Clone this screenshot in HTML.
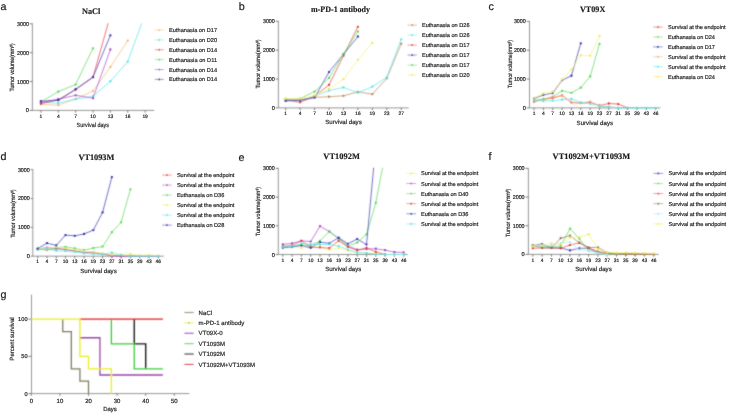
<!DOCTYPE html>
<html><head><meta charset="utf-8"><style>
html,body{margin:0;padding:0;background:#fff;}
body{width:729px;height:416px;overflow:hidden;font-family:"Liberation Sans",sans-serif;}
svg{display:block;}
text{text-rendering:geometricPrecision;}
</style></head><body>
<svg width="729" height="416" viewBox="0 0 729 416">
<defs><filter id="bl" x="0" y="0" width="729" height="416" filterUnits="userSpaceOnUse"><feConvolveMatrix order="3" kernelMatrix="1 4 1 4 16 4 1 4 1" divisor="36" edgeMode="duplicate"/></filter><filter id="tx" x="0" y="0" width="729" height="416" filterUnits="userSpaceOnUse"><feColorMatrix type="identity"/></filter></defs>
<rect width="729" height="416" fill="#fff"/>
<g filter="url(#bl)">
<line x1="32.40" y1="23.50" x2="32.40" y2="110.40" stroke="#8a8a8a" stroke-width="0.9"/>
<line x1="32.40" y1="110.40" x2="154.20" y2="110.40" stroke="#8a8a8a" stroke-width="0.9"/>
<line x1="29.70" y1="23.80" x2="32.40" y2="23.80" stroke="#6e6e6e" stroke-width="0.9"/>
<line x1="29.70" y1="52.67" x2="32.40" y2="52.67" stroke="#6e6e6e" stroke-width="0.9"/>
<line x1="29.70" y1="81.53" x2="32.40" y2="81.53" stroke="#6e6e6e" stroke-width="0.9"/>
<line x1="29.70" y1="110.40" x2="32.40" y2="110.40" stroke="#6e6e6e" stroke-width="0.9"/>
<line x1="40.90" y1="110.40" x2="40.90" y2="112.70" stroke="#6e6e6e" stroke-width="0.9"/>
<line x1="58.27" y1="110.40" x2="58.27" y2="112.70" stroke="#6e6e6e" stroke-width="0.9"/>
<line x1="75.64" y1="110.40" x2="75.64" y2="112.70" stroke="#6e6e6e" stroke-width="0.9"/>
<line x1="93.01" y1="110.40" x2="93.01" y2="112.70" stroke="#6e6e6e" stroke-width="0.9"/>
<line x1="110.38" y1="110.40" x2="110.38" y2="112.70" stroke="#6e6e6e" stroke-width="0.9"/>
<line x1="127.75" y1="110.40" x2="127.75" y2="112.70" stroke="#6e6e6e" stroke-width="0.9"/>
<line x1="145.12" y1="110.40" x2="145.12" y2="112.70" stroke="#6e6e6e" stroke-width="0.9"/>
<clipPath id="ca"><rect x="32.4" y="23.20" width="126.79999999999998" height="91.60000000000001"/></clipPath>
<polyline points="40.90,104.34 58.27,105.20 75.64,98.85 93.01,91.06 110.38,66.96 127.75,40.69" fill="none" stroke="#f4bc7e" stroke-width="0.75" stroke-linejoin="round" clip-path="url(#ca)"/>
<circle cx="40.90" cy="104.34" r="1.15" fill="#f3b470"/>
<circle cx="58.27" cy="105.20" r="1.15" fill="#f3b470"/>
<circle cx="75.64" cy="98.85" r="1.15" fill="#f3b470"/>
<circle cx="93.01" cy="91.06" r="1.15" fill="#f3b470"/>
<circle cx="110.38" cy="66.96" r="1.15" fill="#f3b470"/>
<circle cx="127.75" cy="40.69" r="1.15" fill="#f3b470"/>
<polyline points="40.90,102.03 58.27,103.18 75.64,99.14 93.01,96.26 110.38,81.24 127.75,61.62 145.12,13.99" fill="none" stroke="#60e5e5" stroke-width="0.75" stroke-linejoin="round" clip-path="url(#ca)"/>
<circle cx="40.90" cy="102.03" r="1.15" fill="#4ee2e2"/>
<circle cx="58.27" cy="103.18" r="1.15" fill="#4ee2e2"/>
<circle cx="75.64" cy="99.14" r="1.15" fill="#4ee2e2"/>
<circle cx="93.01" cy="96.26" r="1.15" fill="#4ee2e2"/>
<circle cx="110.38" cy="81.24" r="1.15" fill="#4ee2e2"/>
<circle cx="127.75" cy="61.62" r="1.15" fill="#4ee2e2"/>
<polyline points="40.90,103.76 58.27,100.01 75.64,89.62 93.01,77.20 110.38,15.43" fill="none" stroke="#e54848" stroke-width="0.75" stroke-linejoin="round" clip-path="url(#ca)"/>
<circle cx="40.90" cy="103.76" r="1.15" fill="#e23434"/>
<circle cx="58.27" cy="100.01" r="1.15" fill="#e23434"/>
<circle cx="75.64" cy="89.62" r="1.15" fill="#e23434"/>
<circle cx="93.01" cy="77.20" r="1.15" fill="#e23434"/>
<polyline points="40.90,102.03 58.27,91.64 75.64,84.56 93.01,48.34" fill="none" stroke="#63d863" stroke-width="0.75" stroke-linejoin="round" clip-path="url(#ca)"/>
<circle cx="40.90" cy="102.03" r="1.15" fill="#52d452"/>
<circle cx="58.27" cy="91.64" r="1.15" fill="#52d452"/>
<circle cx="75.64" cy="84.56" r="1.15" fill="#52d452"/>
<circle cx="93.01" cy="48.34" r="1.15" fill="#52d452"/>
<polyline points="40.90,102.61 58.27,99.14 75.64,95.30 93.01,98.13 110.38,49.49" fill="none" stroke="#ad52cc" stroke-width="0.75" stroke-linejoin="round" clip-path="url(#ca)"/>
<circle cx="40.90" cy="102.61" r="1.15" fill="#a43fc6"/>
<circle cx="58.27" cy="99.14" r="1.15" fill="#a43fc6"/>
<circle cx="75.64" cy="95.30" r="1.15" fill="#a43fc6"/>
<circle cx="93.01" cy="98.13" r="1.15" fill="#a43fc6"/>
<circle cx="110.38" cy="49.49" r="1.15" fill="#a43fc6"/>
<polyline points="40.90,101.16 58.27,100.30 75.64,89.24 93.01,77.06 110.38,35.35" fill="none" stroke="#4040b8" stroke-width="0.75" stroke-linejoin="round" clip-path="url(#ca)"/>
<circle cx="40.90" cy="101.16" r="1.15" fill="#2b2bb0"/>
<circle cx="58.27" cy="100.30" r="1.15" fill="#2b2bb0"/>
<circle cx="75.64" cy="89.24" r="1.15" fill="#2b2bb0"/>
<circle cx="93.01" cy="77.06" r="1.15" fill="#2b2bb0"/>
<circle cx="110.38" cy="35.35" r="1.15" fill="#2b2bb0"/>
<line x1="154.80" y1="30.00" x2="163.80" y2="30.00" stroke="#f7ca9b" stroke-width="0.7"/>
<circle cx="159.30" cy="30.00" r="0.85" fill="#f3b470"/>
<line x1="154.80" y1="39.88" x2="163.80" y2="39.88" stroke="#83ebeb" stroke-width="0.7"/>
<circle cx="159.30" cy="39.88" r="0.85" fill="#4ee2e2"/>
<line x1="154.80" y1="49.76" x2="163.80" y2="49.76" stroke="#eb7171" stroke-width="0.7"/>
<circle cx="159.30" cy="49.76" r="0.85" fill="#e23434"/>
<line x1="154.80" y1="59.64" x2="163.80" y2="59.64" stroke="#86e186" stroke-width="0.7"/>
<circle cx="159.30" cy="59.64" r="0.85" fill="#52d452"/>
<line x1="154.80" y1="69.52" x2="163.80" y2="69.52" stroke="#bf79d7" stroke-width="0.7"/>
<circle cx="159.30" cy="69.52" r="0.85" fill="#a43fc6"/>
<line x1="154.80" y1="79.40" x2="163.80" y2="79.40" stroke="#6b6bc8" stroke-width="0.7"/>
<circle cx="159.30" cy="79.40" r="0.85" fill="#2b2bb0"/>
<line x1="278.40" y1="21.00" x2="278.40" y2="107.90" stroke="#8a8a8a" stroke-width="0.9"/>
<line x1="278.40" y1="107.90" x2="408.70" y2="107.90" stroke="#8a8a8a" stroke-width="0.9"/>
<line x1="275.60" y1="21.30" x2="278.40" y2="21.30" stroke="#6e6e6e" stroke-width="0.9"/>
<line x1="275.60" y1="50.17" x2="278.40" y2="50.17" stroke="#6e6e6e" stroke-width="0.9"/>
<line x1="275.60" y1="79.03" x2="278.40" y2="79.03" stroke="#6e6e6e" stroke-width="0.9"/>
<line x1="275.60" y1="107.90" x2="278.40" y2="107.90" stroke="#6e6e6e" stroke-width="0.9"/>
<line x1="285.70" y1="107.90" x2="285.70" y2="110.20" stroke="#6e6e6e" stroke-width="0.9"/>
<line x1="300.14" y1="107.90" x2="300.14" y2="110.20" stroke="#6e6e6e" stroke-width="0.9"/>
<line x1="314.58" y1="107.90" x2="314.58" y2="110.20" stroke="#6e6e6e" stroke-width="0.9"/>
<line x1="329.02" y1="107.90" x2="329.02" y2="110.20" stroke="#6e6e6e" stroke-width="0.9"/>
<line x1="343.46" y1="107.90" x2="343.46" y2="110.20" stroke="#6e6e6e" stroke-width="0.9"/>
<line x1="357.90" y1="107.90" x2="357.90" y2="110.20" stroke="#6e6e6e" stroke-width="0.9"/>
<line x1="372.34" y1="107.90" x2="372.34" y2="110.20" stroke="#6e6e6e" stroke-width="0.9"/>
<line x1="386.78" y1="107.90" x2="386.78" y2="110.20" stroke="#6e6e6e" stroke-width="0.9"/>
<line x1="401.22" y1="107.90" x2="401.22" y2="110.20" stroke="#6e6e6e" stroke-width="0.9"/>
<clipPath id="cb"><rect x="278.4" y="20.70" width="135.3" height="91.60000000000001"/></clipPath>
<polyline points="285.70,99.73 300.14,99.53 314.58,97.33 329.02,96.73 343.46,95.83 357.90,91.82 372.34,94.19 386.78,78.31 401.22,43.67" fill="none" stroke="#b88e65" stroke-width="0.75" stroke-linejoin="round" clip-path="url(#cb)"/>
<circle cx="285.70" cy="99.73" r="1.15" fill="#b08254"/>
<circle cx="300.14" cy="99.53" r="1.15" fill="#b08254"/>
<circle cx="314.58" cy="97.33" r="1.15" fill="#b08254"/>
<circle cx="329.02" cy="96.73" r="1.15" fill="#b08254"/>
<circle cx="343.46" cy="95.83" r="1.15" fill="#b08254"/>
<circle cx="357.90" cy="91.82" r="1.15" fill="#b08254"/>
<circle cx="372.34" cy="94.19" r="1.15" fill="#b08254"/>
<circle cx="386.78" cy="78.31" r="1.15" fill="#b08254"/>
<circle cx="401.22" cy="43.67" r="1.15" fill="#b08254"/>
<polyline points="285.70,100.31 300.14,100.91 314.58,96.12 329.02,90.58 343.46,87.43 357.90,92.80 372.34,86.71 386.78,77.30 401.22,39.31" fill="none" stroke="#60e5e5" stroke-width="0.75" stroke-linejoin="round" clip-path="url(#cb)"/>
<circle cx="285.70" cy="100.31" r="1.15" fill="#4ee2e2"/>
<circle cx="300.14" cy="100.91" r="1.15" fill="#4ee2e2"/>
<circle cx="314.58" cy="96.12" r="1.15" fill="#4ee2e2"/>
<circle cx="329.02" cy="90.58" r="1.15" fill="#4ee2e2"/>
<circle cx="343.46" cy="87.43" r="1.15" fill="#4ee2e2"/>
<circle cx="357.90" cy="92.80" r="1.15" fill="#4ee2e2"/>
<circle cx="372.34" cy="86.71" r="1.15" fill="#4ee2e2"/>
<circle cx="386.78" cy="77.30" r="1.15" fill="#4ee2e2"/>
<circle cx="401.22" cy="39.31" r="1.15" fill="#4ee2e2"/>
<polyline points="285.70,99.73 300.14,102.30 314.58,96.12 329.02,84.95 343.46,55.71 357.90,26.78" fill="none" stroke="#e54848" stroke-width="0.75" stroke-linejoin="round" clip-path="url(#cb)"/>
<circle cx="285.70" cy="99.73" r="1.15" fill="#e23434"/>
<circle cx="300.14" cy="102.30" r="1.15" fill="#e23434"/>
<circle cx="314.58" cy="96.12" r="1.15" fill="#e23434"/>
<circle cx="329.02" cy="84.95" r="1.15" fill="#e23434"/>
<circle cx="343.46" cy="55.71" r="1.15" fill="#e23434"/>
<circle cx="357.90" cy="26.78" r="1.15" fill="#e23434"/>
<polyline points="285.70,100.91 300.14,100.31 314.58,97.62 329.02,72.08 343.46,54.29 357.90,36.51" fill="none" stroke="#4040b8" stroke-width="0.75" stroke-linejoin="round" clip-path="url(#cb)"/>
<circle cx="285.70" cy="100.91" r="1.15" fill="#2b2bb0"/>
<circle cx="300.14" cy="100.31" r="1.15" fill="#2b2bb0"/>
<circle cx="314.58" cy="97.62" r="1.15" fill="#2b2bb0"/>
<circle cx="329.02" cy="72.08" r="1.15" fill="#2b2bb0"/>
<circle cx="343.46" cy="54.29" r="1.15" fill="#2b2bb0"/>
<circle cx="357.90" cy="36.51" r="1.15" fill="#2b2bb0"/>
<polyline points="285.70,99.12 300.14,98.72 314.58,91.53 329.02,77.88 343.46,53.92 357.90,31.40" fill="none" stroke="#63d863" stroke-width="0.75" stroke-linejoin="round" clip-path="url(#cb)"/>
<circle cx="285.70" cy="99.12" r="1.15" fill="#52d452"/>
<circle cx="300.14" cy="98.72" r="1.15" fill="#52d452"/>
<circle cx="314.58" cy="91.53" r="1.15" fill="#52d452"/>
<circle cx="329.02" cy="77.88" r="1.15" fill="#52d452"/>
<circle cx="343.46" cy="53.92" r="1.15" fill="#52d452"/>
<circle cx="357.90" cy="31.40" r="1.15" fill="#52d452"/>
<polyline points="285.70,98.52 300.14,98.72 314.58,95.52 329.02,88.93 343.46,79.06 357.90,59.81 372.34,43.01" fill="none" stroke="#f4f183" stroke-width="0.75" stroke-linejoin="round" clip-path="url(#cb)"/>
<circle cx="285.70" cy="98.52" r="1.15" fill="#eeea40"/>
<circle cx="300.14" cy="98.72" r="1.15" fill="#eeea40"/>
<circle cx="314.58" cy="95.52" r="1.15" fill="#eeea40"/>
<circle cx="329.02" cy="88.93" r="1.15" fill="#eeea40"/>
<circle cx="343.46" cy="79.06" r="1.15" fill="#eeea40"/>
<circle cx="357.90" cy="59.81" r="1.15" fill="#eeea40"/>
<circle cx="372.34" cy="43.01" r="1.15" fill="#eeea40"/>
<line x1="407.60" y1="25.10" x2="416.80" y2="25.10" stroke="#c8a887" stroke-width="0.7"/>
<circle cx="412.20" cy="25.10" r="0.85" fill="#b08254"/>
<line x1="407.60" y1="35.10" x2="416.80" y2="35.10" stroke="#83ebeb" stroke-width="0.7"/>
<circle cx="412.20" cy="35.10" r="0.85" fill="#4ee2e2"/>
<line x1="407.60" y1="45.10" x2="416.80" y2="45.10" stroke="#eb7171" stroke-width="0.7"/>
<circle cx="412.20" cy="45.10" r="0.85" fill="#e23434"/>
<line x1="407.60" y1="55.10" x2="416.80" y2="55.10" stroke="#6b6bc8" stroke-width="0.7"/>
<circle cx="412.20" cy="55.10" r="0.85" fill="#2b2bb0"/>
<line x1="407.60" y1="65.10" x2="416.80" y2="65.10" stroke="#86e186" stroke-width="0.7"/>
<circle cx="412.20" cy="65.10" r="0.85" fill="#52d452"/>
<line x1="407.60" y1="75.10" x2="416.80" y2="75.10" stroke="#f3f079" stroke-width="0.7"/>
<circle cx="412.20" cy="75.10" r="0.85" fill="#eeea40"/>
<line x1="529.50" y1="21.10" x2="529.50" y2="107.90" stroke="#8a8a8a" stroke-width="0.9"/>
<line x1="529.50" y1="107.90" x2="660.40" y2="107.90" stroke="#8a8a8a" stroke-width="0.9"/>
<line x1="526.60" y1="21.40" x2="529.50" y2="21.40" stroke="#6e6e6e" stroke-width="0.9"/>
<line x1="526.60" y1="50.23" x2="529.50" y2="50.23" stroke="#6e6e6e" stroke-width="0.9"/>
<line x1="526.60" y1="79.07" x2="529.50" y2="79.07" stroke="#6e6e6e" stroke-width="0.9"/>
<line x1="526.60" y1="107.90" x2="529.50" y2="107.90" stroke="#6e6e6e" stroke-width="0.9"/>
<line x1="534.00" y1="107.90" x2="534.00" y2="110.20" stroke="#6e6e6e" stroke-width="0.9"/>
<line x1="543.36" y1="107.90" x2="543.36" y2="110.20" stroke="#6e6e6e" stroke-width="0.9"/>
<line x1="552.72" y1="107.90" x2="552.72" y2="110.20" stroke="#6e6e6e" stroke-width="0.9"/>
<line x1="562.08" y1="107.90" x2="562.08" y2="110.20" stroke="#6e6e6e" stroke-width="0.9"/>
<line x1="571.44" y1="107.90" x2="571.44" y2="110.20" stroke="#6e6e6e" stroke-width="0.9"/>
<line x1="580.80" y1="107.90" x2="580.80" y2="110.20" stroke="#6e6e6e" stroke-width="0.9"/>
<line x1="590.16" y1="107.90" x2="590.16" y2="110.20" stroke="#6e6e6e" stroke-width="0.9"/>
<line x1="599.52" y1="107.90" x2="599.52" y2="110.20" stroke="#6e6e6e" stroke-width="0.9"/>
<line x1="608.88" y1="107.90" x2="608.88" y2="110.20" stroke="#6e6e6e" stroke-width="0.9"/>
<line x1="618.24" y1="107.90" x2="618.24" y2="110.20" stroke="#6e6e6e" stroke-width="0.9"/>
<line x1="627.60" y1="107.90" x2="627.60" y2="110.20" stroke="#6e6e6e" stroke-width="0.9"/>
<line x1="636.96" y1="107.90" x2="636.96" y2="110.20" stroke="#6e6e6e" stroke-width="0.9"/>
<line x1="646.32" y1="107.90" x2="646.32" y2="110.20" stroke="#6e6e6e" stroke-width="0.9"/>
<line x1="655.68" y1="107.90" x2="655.68" y2="110.20" stroke="#6e6e6e" stroke-width="0.9"/>
<clipPath id="cc"><rect x="529.5" y="20.80" width="135.89999999999998" height="91.5"/></clipPath>
<polyline points="534.00,101.70 543.36,99.54 552.72,98.10 562.08,95.33 571.44,102.42 580.80,103.11 590.16,102.42 599.52,105.51 608.88,103.52 618.24,104.09 627.60,107.90" fill="none" stroke="#e54848" stroke-width="0.75" stroke-linejoin="round" clip-path="url(#cc)"/>
<circle cx="534.00" cy="101.70" r="1.15" fill="#e23434"/>
<circle cx="543.36" cy="99.54" r="1.15" fill="#e23434"/>
<circle cx="552.72" cy="98.10" r="1.15" fill="#e23434"/>
<circle cx="562.08" cy="95.33" r="1.15" fill="#e23434"/>
<circle cx="571.44" cy="102.42" r="1.15" fill="#e23434"/>
<circle cx="580.80" cy="103.11" r="1.15" fill="#e23434"/>
<circle cx="590.16" cy="102.42" r="1.15" fill="#e23434"/>
<circle cx="599.52" cy="105.51" r="1.15" fill="#e23434"/>
<circle cx="608.88" cy="103.52" r="1.15" fill="#e23434"/>
<circle cx="618.24" cy="104.09" r="1.15" fill="#e23434"/>
<circle cx="627.60" cy="107.90" r="1.15" fill="#e23434"/>
<polyline points="534.00,100.40 543.36,99.02 552.72,96.71 562.08,90.83 571.44,92.82 580.80,87.63 590.16,76.44 599.52,43.80" fill="none" stroke="#63d863" stroke-width="0.75" stroke-linejoin="round" clip-path="url(#cc)"/>
<circle cx="534.00" cy="100.40" r="1.15" fill="#52d452"/>
<circle cx="543.36" cy="99.02" r="1.15" fill="#52d452"/>
<circle cx="552.72" cy="96.71" r="1.15" fill="#52d452"/>
<circle cx="562.08" cy="90.83" r="1.15" fill="#52d452"/>
<circle cx="571.44" cy="92.82" r="1.15" fill="#52d452"/>
<circle cx="580.80" cy="87.63" r="1.15" fill="#52d452"/>
<circle cx="590.16" cy="76.44" r="1.15" fill="#52d452"/>
<circle cx="599.52" cy="43.80" r="1.15" fill="#52d452"/>
<polyline points="534.00,98.62 543.36,94.93 552.72,93.11 562.08,80.22 571.44,75.75 580.80,43.31" fill="none" stroke="#4040b8" stroke-width="0.75" stroke-linejoin="round" clip-path="url(#cc)"/>
<circle cx="534.00" cy="98.62" r="1.15" fill="#2b2bb0"/>
<circle cx="543.36" cy="94.93" r="1.15" fill="#2b2bb0"/>
<circle cx="552.72" cy="93.11" r="1.15" fill="#2b2bb0"/>
<circle cx="562.08" cy="80.22" r="1.15" fill="#2b2bb0"/>
<circle cx="571.44" cy="75.75" r="1.15" fill="#2b2bb0"/>
<circle cx="580.80" cy="43.31" r="1.15" fill="#2b2bb0"/>
<polyline points="534.00,100.69 543.36,99.54 552.72,96.94 562.08,95.79 571.44,102.71 580.80,103.00 590.16,101.56 599.52,105.88 608.88,106.75 618.24,107.90" fill="none" stroke="#f3ab85" stroke-width="0.75" stroke-linejoin="round" clip-path="url(#cc)"/>
<circle cx="534.00" cy="100.69" r="1.15" fill="#f2a277"/>
<circle cx="543.36" cy="99.54" r="1.15" fill="#f2a277"/>
<circle cx="552.72" cy="96.94" r="1.15" fill="#f2a277"/>
<circle cx="562.08" cy="95.79" r="1.15" fill="#f2a277"/>
<circle cx="571.44" cy="102.71" r="1.15" fill="#f2a277"/>
<circle cx="580.80" cy="103.00" r="1.15" fill="#f2a277"/>
<circle cx="590.16" cy="101.56" r="1.15" fill="#f2a277"/>
<circle cx="599.52" cy="105.88" r="1.15" fill="#f2a277"/>
<circle cx="608.88" cy="106.75" r="1.15" fill="#f2a277"/>
<circle cx="618.24" cy="107.90" r="1.15" fill="#f2a277"/>
<polyline points="534.00,99.71 543.36,100.98 552.72,100.55 562.08,99.71 571.44,99.02 580.80,102.42 590.16,103.81 599.52,105.88 608.88,107.04 618.24,107.90 627.60,107.90 636.96,107.90 646.32,107.90 655.68,107.90" fill="none" stroke="#60e5e5" stroke-width="0.75" stroke-linejoin="round" clip-path="url(#cc)"/>
<circle cx="534.00" cy="99.71" r="1.15" fill="#4ee2e2"/>
<circle cx="543.36" cy="100.98" r="1.15" fill="#4ee2e2"/>
<circle cx="552.72" cy="100.55" r="1.15" fill="#4ee2e2"/>
<circle cx="562.08" cy="99.71" r="1.15" fill="#4ee2e2"/>
<circle cx="571.44" cy="99.02" r="1.15" fill="#4ee2e2"/>
<circle cx="580.80" cy="102.42" r="1.15" fill="#4ee2e2"/>
<circle cx="590.16" cy="103.81" r="1.15" fill="#4ee2e2"/>
<circle cx="599.52" cy="105.88" r="1.15" fill="#4ee2e2"/>
<circle cx="608.88" cy="107.04" r="1.15" fill="#4ee2e2"/>
<circle cx="618.24" cy="107.90" r="1.15" fill="#4ee2e2"/>
<circle cx="627.60" cy="107.90" r="1.15" fill="#4ee2e2"/>
<circle cx="636.96" cy="107.90" r="1.15" fill="#4ee2e2"/>
<circle cx="646.32" cy="107.90" r="1.15" fill="#4ee2e2"/>
<circle cx="655.68" cy="107.90" r="1.15" fill="#4ee2e2"/>
<polyline points="534.00,97.61 543.36,93.51 552.72,91.72 562.08,79.44 571.44,69.70 580.80,55.28 590.16,55.71 599.52,36.11" fill="none" stroke="#f4f183" stroke-width="0.75" stroke-linejoin="round" clip-path="url(#cc)"/>
<circle cx="534.00" cy="97.61" r="1.15" fill="#eeea40"/>
<circle cx="543.36" cy="93.51" r="1.15" fill="#eeea40"/>
<circle cx="552.72" cy="91.72" r="1.15" fill="#eeea40"/>
<circle cx="562.08" cy="79.44" r="1.15" fill="#eeea40"/>
<circle cx="571.44" cy="69.70" r="1.15" fill="#eeea40"/>
<circle cx="580.80" cy="55.28" r="1.15" fill="#eeea40"/>
<circle cx="590.16" cy="55.71" r="1.15" fill="#eeea40"/>
<circle cx="599.52" cy="36.11" r="1.15" fill="#eeea40"/>
<line x1="653.10" y1="27.10" x2="662.70" y2="27.10" stroke="#eb7171" stroke-width="0.7"/>
<circle cx="657.90" cy="27.10" r="0.85" fill="#e23434"/>
<line x1="653.10" y1="37.00" x2="662.70" y2="37.00" stroke="#86e186" stroke-width="0.7"/>
<circle cx="657.90" cy="37.00" r="0.85" fill="#52d452"/>
<line x1="653.10" y1="46.90" x2="662.70" y2="46.90" stroke="#6b6bc8" stroke-width="0.7"/>
<circle cx="657.90" cy="46.90" r="0.85" fill="#2b2bb0"/>
<line x1="653.10" y1="56.80" x2="662.70" y2="56.80" stroke="#f6bea0" stroke-width="0.7"/>
<circle cx="657.90" cy="56.80" r="0.85" fill="#f2a277"/>
<line x1="653.10" y1="66.70" x2="662.70" y2="66.70" stroke="#83ebeb" stroke-width="0.7"/>
<circle cx="657.90" cy="66.70" r="0.85" fill="#4ee2e2"/>
<line x1="653.10" y1="76.60" x2="662.70" y2="76.60" stroke="#f3f079" stroke-width="0.7"/>
<circle cx="657.90" cy="76.60" r="0.85" fill="#eeea40"/>
<line x1="32.80" y1="169.30" x2="32.80" y2="256.20" stroke="#8a8a8a" stroke-width="0.9"/>
<line x1="32.80" y1="256.20" x2="163.80" y2="256.20" stroke="#8a8a8a" stroke-width="0.9"/>
<line x1="30.60" y1="169.60" x2="32.80" y2="169.60" stroke="#6e6e6e" stroke-width="0.9"/>
<line x1="30.60" y1="198.47" x2="32.80" y2="198.47" stroke="#6e6e6e" stroke-width="0.9"/>
<line x1="30.60" y1="227.33" x2="32.80" y2="227.33" stroke="#6e6e6e" stroke-width="0.9"/>
<line x1="30.60" y1="256.20" x2="32.80" y2="256.20" stroke="#6e6e6e" stroke-width="0.9"/>
<line x1="37.70" y1="256.20" x2="37.70" y2="258.50" stroke="#6e6e6e" stroke-width="0.9"/>
<line x1="46.97" y1="256.20" x2="46.97" y2="258.50" stroke="#6e6e6e" stroke-width="0.9"/>
<line x1="56.24" y1="256.20" x2="56.24" y2="258.50" stroke="#6e6e6e" stroke-width="0.9"/>
<line x1="65.51" y1="256.20" x2="65.51" y2="258.50" stroke="#6e6e6e" stroke-width="0.9"/>
<line x1="74.78" y1="256.20" x2="74.78" y2="258.50" stroke="#6e6e6e" stroke-width="0.9"/>
<line x1="84.05" y1="256.20" x2="84.05" y2="258.50" stroke="#6e6e6e" stroke-width="0.9"/>
<line x1="93.32" y1="256.20" x2="93.32" y2="258.50" stroke="#6e6e6e" stroke-width="0.9"/>
<line x1="102.59" y1="256.20" x2="102.59" y2="258.50" stroke="#6e6e6e" stroke-width="0.9"/>
<line x1="111.86" y1="256.20" x2="111.86" y2="258.50" stroke="#6e6e6e" stroke-width="0.9"/>
<line x1="121.13" y1="256.20" x2="121.13" y2="258.50" stroke="#6e6e6e" stroke-width="0.9"/>
<line x1="130.40" y1="256.20" x2="130.40" y2="258.50" stroke="#6e6e6e" stroke-width="0.9"/>
<line x1="139.67" y1="256.20" x2="139.67" y2="258.50" stroke="#6e6e6e" stroke-width="0.9"/>
<line x1="148.94" y1="256.20" x2="148.94" y2="258.50" stroke="#6e6e6e" stroke-width="0.9"/>
<line x1="158.21" y1="256.20" x2="158.21" y2="258.50" stroke="#6e6e6e" stroke-width="0.9"/>
<clipPath id="cd"><rect x="32.8" y="169.00" width="136.0" height="91.6"/></clipPath>
<polyline points="37.70,248.98 46.97,249.85 56.24,248.69 65.51,249.27 74.78,251.00 84.05,252.45 93.32,252.74 102.59,254.18 111.86,255.33 121.13,256.20 130.40,256.20 139.67,256.20 148.94,256.20 158.21,256.20" fill="none" stroke="#e54848" stroke-width="0.75" stroke-linejoin="round" clip-path="url(#cd)"/>
<circle cx="37.70" cy="248.98" r="1.15" fill="#e23434"/>
<circle cx="46.97" cy="249.85" r="1.15" fill="#e23434"/>
<circle cx="56.24" cy="248.69" r="1.15" fill="#e23434"/>
<circle cx="65.51" cy="249.27" r="1.15" fill="#e23434"/>
<circle cx="74.78" cy="251.00" r="1.15" fill="#e23434"/>
<circle cx="84.05" cy="252.45" r="1.15" fill="#e23434"/>
<circle cx="93.32" cy="252.74" r="1.15" fill="#e23434"/>
<circle cx="102.59" cy="254.18" r="1.15" fill="#e23434"/>
<circle cx="111.86" cy="255.33" r="1.15" fill="#e23434"/>
<circle cx="121.13" cy="256.20" r="1.15" fill="#e23434"/>
<circle cx="130.40" cy="256.20" r="1.15" fill="#e23434"/>
<circle cx="139.67" cy="256.20" r="1.15" fill="#e23434"/>
<circle cx="148.94" cy="256.20" r="1.15" fill="#e23434"/>
<circle cx="158.21" cy="256.20" r="1.15" fill="#e23434"/>
<polyline points="37.70,248.98 46.97,247.54 56.24,248.41 65.51,249.56 74.78,251.00 84.05,252.16 93.32,252.45 102.59,253.89 111.86,255.91 121.13,256.20 130.40,256.20 139.67,256.20 148.94,256.20 158.21,256.20" fill="none" stroke="#ad52cc" stroke-width="0.75" stroke-linejoin="round" clip-path="url(#cd)"/>
<circle cx="37.70" cy="248.98" r="1.15" fill="#a43fc6"/>
<circle cx="46.97" cy="247.54" r="1.15" fill="#a43fc6"/>
<circle cx="56.24" cy="248.41" r="1.15" fill="#a43fc6"/>
<circle cx="65.51" cy="249.56" r="1.15" fill="#a43fc6"/>
<circle cx="74.78" cy="251.00" r="1.15" fill="#a43fc6"/>
<circle cx="84.05" cy="252.16" r="1.15" fill="#a43fc6"/>
<circle cx="93.32" cy="252.45" r="1.15" fill="#a43fc6"/>
<circle cx="102.59" cy="253.89" r="1.15" fill="#a43fc6"/>
<circle cx="111.86" cy="255.91" r="1.15" fill="#a43fc6"/>
<circle cx="121.13" cy="256.20" r="1.15" fill="#a43fc6"/>
<circle cx="130.40" cy="256.20" r="1.15" fill="#a43fc6"/>
<circle cx="139.67" cy="256.20" r="1.15" fill="#a43fc6"/>
<circle cx="148.94" cy="256.20" r="1.15" fill="#a43fc6"/>
<circle cx="158.21" cy="256.20" r="1.15" fill="#a43fc6"/>
<polyline points="37.70,248.93 46.97,248.93 56.24,247.71 65.51,246.82 74.78,248.43 84.05,250.25 93.32,248.03 102.59,246.62 111.86,232.18 121.13,222.28 130.40,189.37" fill="none" stroke="#63d863" stroke-width="0.75" stroke-linejoin="round" clip-path="url(#cd)"/>
<circle cx="37.70" cy="248.93" r="1.15" fill="#52d452"/>
<circle cx="46.97" cy="248.93" r="1.15" fill="#52d452"/>
<circle cx="56.24" cy="247.71" r="1.15" fill="#52d452"/>
<circle cx="65.51" cy="246.82" r="1.15" fill="#52d452"/>
<circle cx="74.78" cy="248.43" r="1.15" fill="#52d452"/>
<circle cx="84.05" cy="250.25" r="1.15" fill="#52d452"/>
<circle cx="93.32" cy="248.03" r="1.15" fill="#52d452"/>
<circle cx="102.59" cy="246.62" r="1.15" fill="#52d452"/>
<circle cx="111.86" cy="232.18" r="1.15" fill="#52d452"/>
<circle cx="121.13" cy="222.28" r="1.15" fill="#52d452"/>
<circle cx="130.40" cy="189.37" r="1.15" fill="#52d452"/>
<polyline points="37.70,248.98 46.97,248.41 56.24,246.96 65.51,248.41 74.78,249.85 84.05,251.29 93.32,251.87 102.59,253.31 111.86,254.76 121.13,254.47 130.40,254.18 139.67,255.33 148.94,255.05 158.21,255.62" fill="none" stroke="#f4f183" stroke-width="0.75" stroke-linejoin="round" clip-path="url(#cd)"/>
<circle cx="37.70" cy="248.98" r="1.15" fill="#eeea40"/>
<circle cx="46.97" cy="248.41" r="1.15" fill="#eeea40"/>
<circle cx="56.24" cy="246.96" r="1.15" fill="#eeea40"/>
<circle cx="65.51" cy="248.41" r="1.15" fill="#eeea40"/>
<circle cx="74.78" cy="249.85" r="1.15" fill="#eeea40"/>
<circle cx="84.05" cy="251.29" r="1.15" fill="#eeea40"/>
<circle cx="93.32" cy="251.87" r="1.15" fill="#eeea40"/>
<circle cx="102.59" cy="253.31" r="1.15" fill="#eeea40"/>
<circle cx="111.86" cy="254.76" r="1.15" fill="#eeea40"/>
<circle cx="121.13" cy="254.47" r="1.15" fill="#eeea40"/>
<circle cx="130.40" cy="254.18" r="1.15" fill="#eeea40"/>
<circle cx="139.67" cy="255.33" r="1.15" fill="#eeea40"/>
<circle cx="148.94" cy="255.05" r="1.15" fill="#eeea40"/>
<circle cx="158.21" cy="255.62" r="1.15" fill="#eeea40"/>
<polyline points="37.70,249.85 46.97,248.69 56.24,250.72 65.51,251.00 74.78,251.87 84.05,253.31 93.32,253.89 102.59,254.47 111.86,252.74 121.13,255.05 130.40,256.20 139.67,256.20 148.94,256.20 158.21,256.20" fill="none" stroke="#60e5e5" stroke-width="0.75" stroke-linejoin="round" clip-path="url(#cd)"/>
<circle cx="37.70" cy="249.85" r="1.15" fill="#4ee2e2"/>
<circle cx="46.97" cy="248.69" r="1.15" fill="#4ee2e2"/>
<circle cx="56.24" cy="250.72" r="1.15" fill="#4ee2e2"/>
<circle cx="65.51" cy="251.00" r="1.15" fill="#4ee2e2"/>
<circle cx="74.78" cy="251.87" r="1.15" fill="#4ee2e2"/>
<circle cx="84.05" cy="253.31" r="1.15" fill="#4ee2e2"/>
<circle cx="93.32" cy="253.89" r="1.15" fill="#4ee2e2"/>
<circle cx="102.59" cy="254.47" r="1.15" fill="#4ee2e2"/>
<circle cx="111.86" cy="252.74" r="1.15" fill="#4ee2e2"/>
<circle cx="121.13" cy="255.05" r="1.15" fill="#4ee2e2"/>
<circle cx="130.40" cy="256.20" r="1.15" fill="#4ee2e2"/>
<circle cx="139.67" cy="256.20" r="1.15" fill="#4ee2e2"/>
<circle cx="148.94" cy="256.20" r="1.15" fill="#4ee2e2"/>
<circle cx="158.21" cy="256.20" r="1.15" fill="#4ee2e2"/>
<polyline points="37.70,248.64 46.97,243.18 56.24,245.40 65.51,235.10 74.78,235.82 84.05,234.00 93.32,230.05 102.59,212.41 111.86,177.11" fill="none" stroke="#4040b8" stroke-width="0.75" stroke-linejoin="round" clip-path="url(#cd)"/>
<circle cx="37.70" cy="248.64" r="1.15" fill="#2b2bb0"/>
<circle cx="46.97" cy="243.18" r="1.15" fill="#2b2bb0"/>
<circle cx="56.24" cy="245.40" r="1.15" fill="#2b2bb0"/>
<circle cx="65.51" cy="235.10" r="1.15" fill="#2b2bb0"/>
<circle cx="74.78" cy="235.82" r="1.15" fill="#2b2bb0"/>
<circle cx="84.05" cy="234.00" r="1.15" fill="#2b2bb0"/>
<circle cx="93.32" cy="230.05" r="1.15" fill="#2b2bb0"/>
<circle cx="102.59" cy="212.41" r="1.15" fill="#2b2bb0"/>
<circle cx="111.86" cy="177.11" r="1.15" fill="#2b2bb0"/>
<line x1="162.10" y1="175.10" x2="171.80" y2="175.10" stroke="#eb7171" stroke-width="0.7"/>
<circle cx="166.95" cy="175.10" r="0.85" fill="#e23434"/>
<line x1="162.10" y1="185.10" x2="171.80" y2="185.10" stroke="#bf79d7" stroke-width="0.7"/>
<circle cx="166.95" cy="185.10" r="0.85" fill="#a43fc6"/>
<line x1="162.10" y1="195.10" x2="171.80" y2="195.10" stroke="#86e186" stroke-width="0.7"/>
<circle cx="166.95" cy="195.10" r="0.85" fill="#52d452"/>
<line x1="162.10" y1="205.10" x2="171.80" y2="205.10" stroke="#f3f079" stroke-width="0.7"/>
<circle cx="166.95" cy="205.10" r="0.85" fill="#eeea40"/>
<line x1="162.10" y1="215.10" x2="171.80" y2="215.10" stroke="#83ebeb" stroke-width="0.7"/>
<circle cx="166.95" cy="215.10" r="0.85" fill="#4ee2e2"/>
<line x1="162.10" y1="225.10" x2="171.80" y2="225.10" stroke="#6b6bc8" stroke-width="0.7"/>
<circle cx="166.95" cy="225.10" r="0.85" fill="#2b2bb0"/>
<line x1="278.30" y1="168.10" x2="278.30" y2="254.50" stroke="#8a8a8a" stroke-width="0.9"/>
<line x1="278.30" y1="254.50" x2="407.70" y2="254.50" stroke="#8a8a8a" stroke-width="0.9"/>
<line x1="275.60" y1="168.40" x2="278.30" y2="168.40" stroke="#6e6e6e" stroke-width="0.9"/>
<line x1="275.60" y1="197.10" x2="278.30" y2="197.10" stroke="#6e6e6e" stroke-width="0.9"/>
<line x1="275.60" y1="225.80" x2="278.30" y2="225.80" stroke="#6e6e6e" stroke-width="0.9"/>
<line x1="275.60" y1="254.50" x2="278.30" y2="254.50" stroke="#6e6e6e" stroke-width="0.9"/>
<line x1="282.80" y1="254.50" x2="282.80" y2="256.80" stroke="#6e6e6e" stroke-width="0.9"/>
<line x1="292.10" y1="254.50" x2="292.10" y2="256.80" stroke="#6e6e6e" stroke-width="0.9"/>
<line x1="301.40" y1="254.50" x2="301.40" y2="256.80" stroke="#6e6e6e" stroke-width="0.9"/>
<line x1="310.70" y1="254.50" x2="310.70" y2="256.80" stroke="#6e6e6e" stroke-width="0.9"/>
<line x1="320.00" y1="254.50" x2="320.00" y2="256.80" stroke="#6e6e6e" stroke-width="0.9"/>
<line x1="329.30" y1="254.50" x2="329.30" y2="256.80" stroke="#6e6e6e" stroke-width="0.9"/>
<line x1="338.60" y1="254.50" x2="338.60" y2="256.80" stroke="#6e6e6e" stroke-width="0.9"/>
<line x1="347.90" y1="254.50" x2="347.90" y2="256.80" stroke="#6e6e6e" stroke-width="0.9"/>
<line x1="357.20" y1="254.50" x2="357.20" y2="256.80" stroke="#6e6e6e" stroke-width="0.9"/>
<line x1="366.50" y1="254.50" x2="366.50" y2="256.80" stroke="#6e6e6e" stroke-width="0.9"/>
<line x1="375.80" y1="254.50" x2="375.80" y2="256.80" stroke="#6e6e6e" stroke-width="0.9"/>
<line x1="385.10" y1="254.50" x2="385.10" y2="256.80" stroke="#6e6e6e" stroke-width="0.9"/>
<line x1="394.40" y1="254.50" x2="394.40" y2="256.80" stroke="#6e6e6e" stroke-width="0.9"/>
<line x1="403.70" y1="254.50" x2="403.70" y2="256.80" stroke="#6e6e6e" stroke-width="0.9"/>
<clipPath id="ce"><rect x="278.3" y="167.80" width="134.39999999999998" height="91.1"/></clipPath>
<polyline points="282.80,246.46 292.10,246.46 301.40,247.84 310.70,246.18 320.00,246.95 329.30,249.62 338.60,247.84 347.90,250.48 357.20,252.49 366.50,253.06 375.80,253.35 385.10,254.21 394.40,254.50 403.70,254.50" fill="none" stroke="#f4f183" stroke-width="0.75" stroke-linejoin="round" clip-path="url(#ce)"/>
<circle cx="282.80" cy="246.46" r="1.15" fill="#eeea40"/>
<circle cx="292.10" cy="246.46" r="1.15" fill="#eeea40"/>
<circle cx="301.40" cy="247.84" r="1.15" fill="#eeea40"/>
<circle cx="310.70" cy="246.18" r="1.15" fill="#eeea40"/>
<circle cx="320.00" cy="246.95" r="1.15" fill="#eeea40"/>
<circle cx="329.30" cy="249.62" r="1.15" fill="#eeea40"/>
<circle cx="338.60" cy="247.84" r="1.15" fill="#eeea40"/>
<circle cx="347.90" cy="250.48" r="1.15" fill="#eeea40"/>
<circle cx="357.20" cy="252.49" r="1.15" fill="#eeea40"/>
<circle cx="366.50" cy="253.06" r="1.15" fill="#eeea40"/>
<circle cx="375.80" cy="253.35" r="1.15" fill="#eeea40"/>
<circle cx="385.10" cy="254.21" r="1.15" fill="#eeea40"/>
<circle cx="394.40" cy="254.50" r="1.15" fill="#eeea40"/>
<circle cx="403.70" cy="254.50" r="1.15" fill="#eeea40"/>
<polyline points="282.80,244.28 292.10,243.39 301.40,240.81 310.70,241.59 320.00,226.14 329.30,231.60 338.60,238.14 347.90,246.06 357.20,249.62 366.50,249.05 375.80,248.76 385.10,250.19 394.40,252.20 403.70,252.49" fill="none" stroke="#ad52cc" stroke-width="0.75" stroke-linejoin="round" clip-path="url(#ce)"/>
<circle cx="282.80" cy="244.28" r="1.15" fill="#a43fc6"/>
<circle cx="292.10" cy="243.39" r="1.15" fill="#a43fc6"/>
<circle cx="301.40" cy="240.81" r="1.15" fill="#a43fc6"/>
<circle cx="310.70" cy="241.59" r="1.15" fill="#a43fc6"/>
<circle cx="320.00" cy="226.14" r="1.15" fill="#a43fc6"/>
<circle cx="329.30" cy="231.60" r="1.15" fill="#a43fc6"/>
<circle cx="338.60" cy="238.14" r="1.15" fill="#a43fc6"/>
<circle cx="347.90" cy="246.06" r="1.15" fill="#a43fc6"/>
<circle cx="357.20" cy="249.62" r="1.15" fill="#a43fc6"/>
<circle cx="366.50" cy="249.05" r="1.15" fill="#a43fc6"/>
<circle cx="375.80" cy="248.76" r="1.15" fill="#a43fc6"/>
<circle cx="385.10" cy="250.19" r="1.15" fill="#a43fc6"/>
<circle cx="394.40" cy="252.20" r="1.15" fill="#a43fc6"/>
<circle cx="403.70" cy="252.49" r="1.15" fill="#a43fc6"/>
<polyline points="282.80,246.95 292.10,246.18 301.40,245.03 310.70,245.32 320.00,240.81 329.30,231.40 338.60,239.03 347.90,246.06 357.20,242.50 366.50,234.41 375.80,202.84 385.10,154.28" fill="none" stroke="#63d863" stroke-width="0.75" stroke-linejoin="round" clip-path="url(#ce)"/>
<circle cx="282.80" cy="246.95" r="1.15" fill="#52d452"/>
<circle cx="292.10" cy="246.18" r="1.15" fill="#52d452"/>
<circle cx="301.40" cy="245.03" r="1.15" fill="#52d452"/>
<circle cx="310.70" cy="245.32" r="1.15" fill="#52d452"/>
<circle cx="320.00" cy="240.81" r="1.15" fill="#52d452"/>
<circle cx="329.30" cy="231.40" r="1.15" fill="#52d452"/>
<circle cx="338.60" cy="239.03" r="1.15" fill="#52d452"/>
<circle cx="347.90" cy="246.06" r="1.15" fill="#52d452"/>
<circle cx="357.20" cy="242.50" r="1.15" fill="#52d452"/>
<circle cx="366.50" cy="234.41" r="1.15" fill="#52d452"/>
<circle cx="375.80" cy="202.84" r="1.15" fill="#52d452"/>
<polyline points="282.80,246.18 292.10,245.60 301.40,240.81 310.70,247.32 320.00,247.47 329.30,248.19 338.60,240.81 347.90,246.95 357.20,250.48 366.50,247.84 375.80,251.92 385.10,254.50" fill="none" stroke="#e54848" stroke-width="0.75" stroke-linejoin="round" clip-path="url(#ce)"/>
<circle cx="282.80" cy="246.18" r="1.15" fill="#e23434"/>
<circle cx="292.10" cy="245.60" r="1.15" fill="#e23434"/>
<circle cx="301.40" cy="240.81" r="1.15" fill="#e23434"/>
<circle cx="310.70" cy="247.32" r="1.15" fill="#e23434"/>
<circle cx="320.00" cy="247.47" r="1.15" fill="#e23434"/>
<circle cx="329.30" cy="248.19" r="1.15" fill="#e23434"/>
<circle cx="338.60" cy="240.81" r="1.15" fill="#e23434"/>
<circle cx="347.90" cy="246.95" r="1.15" fill="#e23434"/>
<circle cx="357.20" cy="250.48" r="1.15" fill="#e23434"/>
<circle cx="366.50" cy="247.84" r="1.15" fill="#e23434"/>
<circle cx="375.80" cy="251.92" r="1.15" fill="#e23434"/>
<circle cx="385.10" cy="254.50" r="1.15" fill="#e23434"/>
<polyline points="282.80,247.84 292.10,246.95 301.40,245.57 310.70,247.84 320.00,242.19 329.30,243.39 338.60,237.74 347.90,243.79 357.20,239.03 366.50,244.60 375.80,144.84" fill="none" stroke="#4040b8" stroke-width="0.75" stroke-linejoin="round" clip-path="url(#ce)"/>
<circle cx="282.80" cy="247.84" r="1.15" fill="#2b2bb0"/>
<circle cx="292.10" cy="246.95" r="1.15" fill="#2b2bb0"/>
<circle cx="301.40" cy="245.57" r="1.15" fill="#2b2bb0"/>
<circle cx="310.70" cy="247.84" r="1.15" fill="#2b2bb0"/>
<circle cx="320.00" cy="242.19" r="1.15" fill="#2b2bb0"/>
<circle cx="329.30" cy="243.39" r="1.15" fill="#2b2bb0"/>
<circle cx="338.60" cy="237.74" r="1.15" fill="#2b2bb0"/>
<circle cx="347.90" cy="243.79" r="1.15" fill="#2b2bb0"/>
<circle cx="357.20" cy="239.03" r="1.15" fill="#2b2bb0"/>
<circle cx="366.50" cy="244.60" r="1.15" fill="#2b2bb0"/>
<polyline points="282.80,246.95 292.10,246.46 301.40,243.39 310.70,244.28 320.00,244.74 329.30,244.28 338.60,246.06 347.90,249.62 357.20,252.49 366.50,253.06 375.80,254.21 385.10,254.50 394.40,254.50 403.70,254.50" fill="none" stroke="#60e5e5" stroke-width="0.75" stroke-linejoin="round" clip-path="url(#ce)"/>
<circle cx="282.80" cy="246.95" r="1.15" fill="#4ee2e2"/>
<circle cx="292.10" cy="246.46" r="1.15" fill="#4ee2e2"/>
<circle cx="301.40" cy="243.39" r="1.15" fill="#4ee2e2"/>
<circle cx="310.70" cy="244.28" r="1.15" fill="#4ee2e2"/>
<circle cx="320.00" cy="244.74" r="1.15" fill="#4ee2e2"/>
<circle cx="329.30" cy="244.28" r="1.15" fill="#4ee2e2"/>
<circle cx="338.60" cy="246.06" r="1.15" fill="#4ee2e2"/>
<circle cx="347.90" cy="249.62" r="1.15" fill="#4ee2e2"/>
<circle cx="357.20" cy="252.49" r="1.15" fill="#4ee2e2"/>
<circle cx="366.50" cy="253.06" r="1.15" fill="#4ee2e2"/>
<circle cx="375.80" cy="254.21" r="1.15" fill="#4ee2e2"/>
<circle cx="385.10" cy="254.50" r="1.15" fill="#4ee2e2"/>
<circle cx="394.40" cy="254.50" r="1.15" fill="#4ee2e2"/>
<circle cx="403.70" cy="254.50" r="1.15" fill="#4ee2e2"/>
<line x1="406.40" y1="173.40" x2="416.00" y2="173.40" stroke="#f3f079" stroke-width="0.7"/>
<circle cx="411.20" cy="173.40" r="0.85" fill="#eeea40"/>
<line x1="406.40" y1="183.50" x2="416.00" y2="183.50" stroke="#bf79d7" stroke-width="0.7"/>
<circle cx="411.20" cy="183.50" r="0.85" fill="#a43fc6"/>
<line x1="406.40" y1="193.60" x2="416.00" y2="193.60" stroke="#86e186" stroke-width="0.7"/>
<circle cx="411.20" cy="193.60" r="0.85" fill="#52d452"/>
<line x1="406.40" y1="203.70" x2="416.00" y2="203.70" stroke="#eb7171" stroke-width="0.7"/>
<circle cx="411.20" cy="203.70" r="0.85" fill="#e23434"/>
<line x1="406.40" y1="213.80" x2="416.00" y2="213.80" stroke="#6b6bc8" stroke-width="0.7"/>
<circle cx="411.20" cy="213.80" r="0.85" fill="#2b2bb0"/>
<line x1="406.40" y1="223.90" x2="416.00" y2="223.90" stroke="#83ebeb" stroke-width="0.7"/>
<circle cx="411.20" cy="223.90" r="0.85" fill="#4ee2e2"/>
<line x1="528.40" y1="168.10" x2="528.40" y2="254.40" stroke="#8a8a8a" stroke-width="0.9"/>
<line x1="528.40" y1="254.40" x2="658.80" y2="254.40" stroke="#8a8a8a" stroke-width="0.9"/>
<line x1="525.40" y1="168.40" x2="528.40" y2="168.40" stroke="#6e6e6e" stroke-width="0.9"/>
<line x1="525.40" y1="197.07" x2="528.40" y2="197.07" stroke="#6e6e6e" stroke-width="0.9"/>
<line x1="525.40" y1="225.73" x2="528.40" y2="225.73" stroke="#6e6e6e" stroke-width="0.9"/>
<line x1="525.40" y1="254.40" x2="528.40" y2="254.40" stroke="#6e6e6e" stroke-width="0.9"/>
<line x1="532.80" y1="254.40" x2="532.80" y2="256.70" stroke="#6e6e6e" stroke-width="0.9"/>
<line x1="542.10" y1="254.40" x2="542.10" y2="256.70" stroke="#6e6e6e" stroke-width="0.9"/>
<line x1="551.40" y1="254.40" x2="551.40" y2="256.70" stroke="#6e6e6e" stroke-width="0.9"/>
<line x1="560.70" y1="254.40" x2="560.70" y2="256.70" stroke="#6e6e6e" stroke-width="0.9"/>
<line x1="570.00" y1="254.40" x2="570.00" y2="256.70" stroke="#6e6e6e" stroke-width="0.9"/>
<line x1="579.30" y1="254.40" x2="579.30" y2="256.70" stroke="#6e6e6e" stroke-width="0.9"/>
<line x1="588.60" y1="254.40" x2="588.60" y2="256.70" stroke="#6e6e6e" stroke-width="0.9"/>
<line x1="597.90" y1="254.40" x2="597.90" y2="256.70" stroke="#6e6e6e" stroke-width="0.9"/>
<line x1="607.20" y1="254.40" x2="607.20" y2="256.70" stroke="#6e6e6e" stroke-width="0.9"/>
<line x1="616.50" y1="254.40" x2="616.50" y2="256.70" stroke="#6e6e6e" stroke-width="0.9"/>
<line x1="625.80" y1="254.40" x2="625.80" y2="256.70" stroke="#6e6e6e" stroke-width="0.9"/>
<line x1="635.10" y1="254.40" x2="635.10" y2="256.70" stroke="#6e6e6e" stroke-width="0.9"/>
<line x1="644.40" y1="254.40" x2="644.40" y2="256.70" stroke="#6e6e6e" stroke-width="0.9"/>
<line x1="653.70" y1="254.40" x2="653.70" y2="256.70" stroke="#6e6e6e" stroke-width="0.9"/>
<clipPath id="cf"><rect x="528.4" y="167.80" width="135.39999999999998" height="91.0"/></clipPath>
<polyline points="532.80,245.63 542.10,244.05 551.40,247.92 560.70,247.92 570.00,250.39 579.30,248.32 588.60,248.24 597.90,252.39 607.20,253.68 616.50,254.11 625.80,254.26 635.10,254.26 644.40,254.26 653.70,254.26" fill="none" stroke="#4040b8" stroke-width="0.75" stroke-linejoin="round" clip-path="url(#cf)"/>
<circle cx="532.80" cy="245.63" r="1.15" fill="#2b2bb0"/>
<circle cx="542.10" cy="244.05" r="1.15" fill="#2b2bb0"/>
<circle cx="551.40" cy="247.92" r="1.15" fill="#2b2bb0"/>
<circle cx="560.70" cy="247.92" r="1.15" fill="#2b2bb0"/>
<circle cx="570.00" cy="250.39" r="1.15" fill="#2b2bb0"/>
<circle cx="579.30" cy="248.32" r="1.15" fill="#2b2bb0"/>
<circle cx="588.60" cy="248.24" r="1.15" fill="#2b2bb0"/>
<circle cx="597.90" cy="252.39" r="1.15" fill="#2b2bb0"/>
<circle cx="607.20" cy="253.68" r="1.15" fill="#2b2bb0"/>
<circle cx="616.50" cy="254.11" r="1.15" fill="#2b2bb0"/>
<circle cx="625.80" cy="254.26" r="1.15" fill="#2b2bb0"/>
<circle cx="635.10" cy="254.26" r="1.15" fill="#2b2bb0"/>
<circle cx="644.40" cy="254.26" r="1.15" fill="#2b2bb0"/>
<circle cx="653.70" cy="254.26" r="1.15" fill="#2b2bb0"/>
<polyline points="532.80,246.14 542.10,246.14 551.40,247.43 560.70,245.80 570.00,228.69 579.30,238.55 588.60,250.62 597.90,252.31 607.20,254.11 616.50,254.26 625.80,254.26 635.10,254.26 644.40,254.26 653.70,254.26" fill="none" stroke="#63d863" stroke-width="0.75" stroke-linejoin="round" clip-path="url(#cf)"/>
<circle cx="532.80" cy="246.14" r="1.15" fill="#52d452"/>
<circle cx="542.10" cy="246.14" r="1.15" fill="#52d452"/>
<circle cx="551.40" cy="247.43" r="1.15" fill="#52d452"/>
<circle cx="560.70" cy="245.80" r="1.15" fill="#52d452"/>
<circle cx="570.00" cy="228.69" r="1.15" fill="#52d452"/>
<circle cx="579.30" cy="238.55" r="1.15" fill="#52d452"/>
<circle cx="588.60" cy="250.62" r="1.15" fill="#52d452"/>
<circle cx="597.90" cy="252.31" r="1.15" fill="#52d452"/>
<circle cx="607.20" cy="254.11" r="1.15" fill="#52d452"/>
<circle cx="616.50" cy="254.26" r="1.15" fill="#52d452"/>
<circle cx="625.80" cy="254.26" r="1.15" fill="#52d452"/>
<circle cx="635.10" cy="254.26" r="1.15" fill="#52d452"/>
<circle cx="644.40" cy="254.26" r="1.15" fill="#52d452"/>
<circle cx="653.70" cy="254.26" r="1.15" fill="#52d452"/>
<polyline points="532.80,248.24 542.10,247.92 551.40,247.81 560.70,248.32 570.00,245.03 579.30,242.85 588.60,248.04 597.90,251.53 607.20,252.88 616.50,253.68 625.80,253.83 635.10,253.97 644.40,254.11 653.70,254.26" fill="none" stroke="#e54848" stroke-width="0.75" stroke-linejoin="round" clip-path="url(#cf)"/>
<circle cx="532.80" cy="248.24" r="1.15" fill="#e23434"/>
<circle cx="542.10" cy="247.92" r="1.15" fill="#e23434"/>
<circle cx="551.40" cy="247.81" r="1.15" fill="#e23434"/>
<circle cx="560.70" cy="248.32" r="1.15" fill="#e23434"/>
<circle cx="570.00" cy="245.03" r="1.15" fill="#e23434"/>
<circle cx="579.30" cy="242.85" r="1.15" fill="#e23434"/>
<circle cx="588.60" cy="248.04" r="1.15" fill="#e23434"/>
<circle cx="597.90" cy="251.53" r="1.15" fill="#e23434"/>
<circle cx="607.20" cy="252.88" r="1.15" fill="#e23434"/>
<circle cx="616.50" cy="253.68" r="1.15" fill="#e23434"/>
<circle cx="625.80" cy="253.83" r="1.15" fill="#e23434"/>
<circle cx="635.10" cy="253.97" r="1.15" fill="#e23434"/>
<circle cx="644.40" cy="254.11" r="1.15" fill="#e23434"/>
<circle cx="653.70" cy="254.26" r="1.15" fill="#e23434"/>
<polyline points="532.80,246.37 542.10,246.09 551.40,245.23 560.70,242.93 570.00,242.36 579.30,249.81 588.60,250.67 597.90,253.25 607.20,254.40" fill="none" stroke="#a8ecf3" stroke-width="0.75" stroke-linejoin="round" clip-path="url(#cf)"/>
<circle cx="532.80" cy="246.37" r="1.15" fill="#9eeaf2"/>
<circle cx="542.10" cy="246.09" r="1.15" fill="#9eeaf2"/>
<circle cx="551.40" cy="245.23" r="1.15" fill="#9eeaf2"/>
<circle cx="560.70" cy="242.93" r="1.15" fill="#9eeaf2"/>
<circle cx="570.00" cy="242.36" r="1.15" fill="#9eeaf2"/>
<circle cx="579.30" cy="249.81" r="1.15" fill="#9eeaf2"/>
<circle cx="588.60" cy="250.67" r="1.15" fill="#9eeaf2"/>
<circle cx="597.90" cy="253.25" r="1.15" fill="#9eeaf2"/>
<circle cx="607.20" cy="254.40" r="1.15" fill="#9eeaf2"/>
<polyline points="532.80,245.23 542.10,247.92 551.40,247.92 560.70,238.15 570.00,235.77 579.30,242.65 588.60,247.52 597.90,247.43 607.20,252.59 616.50,253.68 625.80,253.54 635.10,253.68 644.40,253.83 653.70,254.11" fill="none" stroke="#987963" stroke-width="0.75" stroke-linejoin="round" clip-path="url(#cf)"/>
<circle cx="532.80" cy="245.23" r="1.15" fill="#8c6a52"/>
<circle cx="542.10" cy="247.92" r="1.15" fill="#8c6a52"/>
<circle cx="551.40" cy="247.92" r="1.15" fill="#8c6a52"/>
<circle cx="560.70" cy="238.15" r="1.15" fill="#8c6a52"/>
<circle cx="570.00" cy="235.77" r="1.15" fill="#8c6a52"/>
<circle cx="579.30" cy="242.65" r="1.15" fill="#8c6a52"/>
<circle cx="588.60" cy="247.52" r="1.15" fill="#8c6a52"/>
<circle cx="597.90" cy="247.43" r="1.15" fill="#8c6a52"/>
<circle cx="607.20" cy="252.59" r="1.15" fill="#8c6a52"/>
<circle cx="616.50" cy="253.68" r="1.15" fill="#8c6a52"/>
<circle cx="625.80" cy="253.54" r="1.15" fill="#8c6a52"/>
<circle cx="635.10" cy="253.68" r="1.15" fill="#8c6a52"/>
<circle cx="644.40" cy="253.83" r="1.15" fill="#8c6a52"/>
<circle cx="653.70" cy="254.11" r="1.15" fill="#8c6a52"/>
<polyline points="532.80,246.09 542.10,245.23 551.40,243.33 560.70,244.14 570.00,237.49 579.30,237.20 588.60,234.28 597.90,249.24 607.20,252.39 616.50,252.97 625.80,252.68 635.10,252.97 644.40,253.25 653.70,253.54" fill="none" stroke="#f4f183" stroke-width="0.75" stroke-linejoin="round" clip-path="url(#cf)"/>
<circle cx="532.80" cy="246.09" r="1.15" fill="#eeea40"/>
<circle cx="542.10" cy="245.23" r="1.15" fill="#eeea40"/>
<circle cx="551.40" cy="243.33" r="1.15" fill="#eeea40"/>
<circle cx="560.70" cy="244.14" r="1.15" fill="#eeea40"/>
<circle cx="570.00" cy="237.49" r="1.15" fill="#eeea40"/>
<circle cx="579.30" cy="237.20" r="1.15" fill="#eeea40"/>
<circle cx="588.60" cy="234.28" r="1.15" fill="#eeea40"/>
<circle cx="597.90" cy="249.24" r="1.15" fill="#eeea40"/>
<circle cx="607.20" cy="252.39" r="1.15" fill="#eeea40"/>
<circle cx="616.50" cy="252.97" r="1.15" fill="#eeea40"/>
<circle cx="625.80" cy="252.68" r="1.15" fill="#eeea40"/>
<circle cx="635.10" cy="252.97" r="1.15" fill="#eeea40"/>
<circle cx="644.40" cy="253.25" r="1.15" fill="#eeea40"/>
<circle cx="653.70" cy="253.54" r="1.15" fill="#eeea40"/>
<line x1="653.40" y1="173.40" x2="663.20" y2="173.40" stroke="#6b6bc8" stroke-width="0.7"/>
<circle cx="658.30" cy="173.40" r="0.85" fill="#2b2bb0"/>
<line x1="653.40" y1="183.50" x2="663.20" y2="183.50" stroke="#86e186" stroke-width="0.7"/>
<circle cx="658.30" cy="183.50" r="0.85" fill="#52d452"/>
<line x1="653.40" y1="193.60" x2="663.20" y2="193.60" stroke="#eb7171" stroke-width="0.7"/>
<circle cx="658.30" cy="193.60" r="0.85" fill="#e23434"/>
<line x1="653.40" y1="203.70" x2="663.20" y2="203.70" stroke="#ae9786" stroke-width="0.7"/>
<circle cx="658.30" cy="203.70" r="0.85" fill="#8c6a52"/>
<line x1="653.40" y1="213.80" x2="663.20" y2="213.80" stroke="#bbf0f6" stroke-width="0.7"/>
<circle cx="658.30" cy="213.80" r="0.85" fill="#9eeaf2"/>
<line x1="653.40" y1="223.90" x2="663.20" y2="223.90" stroke="#f3f079" stroke-width="0.7"/>
<circle cx="658.30" cy="223.90" r="0.85" fill="#eeea40"/>
<line x1="31.50" y1="294.60" x2="31.50" y2="393.60" stroke="#8a8a8a" stroke-width="0.9"/>
<line x1="31.50" y1="393.60" x2="189.40" y2="393.60" stroke="#8a8a8a" stroke-width="0.9"/>
<line x1="28.40" y1="319.10" x2="31.50" y2="319.10" stroke="#6e6e6e" stroke-width="0.9"/>
<line x1="28.40" y1="356.35" x2="31.50" y2="356.35" stroke="#6e6e6e" stroke-width="0.9"/>
<line x1="28.40" y1="393.60" x2="31.50" y2="393.60" stroke="#6e6e6e" stroke-width="0.9"/>
<line x1="31.30" y1="393.60" x2="31.30" y2="395.80" stroke="#6e6e6e" stroke-width="0.9"/>
<line x1="59.90" y1="393.60" x2="59.90" y2="395.80" stroke="#6e6e6e" stroke-width="0.9"/>
<line x1="88.50" y1="393.60" x2="88.50" y2="395.80" stroke="#6e6e6e" stroke-width="0.9"/>
<line x1="117.10" y1="393.60" x2="117.10" y2="395.80" stroke="#6e6e6e" stroke-width="0.9"/>
<line x1="145.70" y1="393.60" x2="145.70" y2="395.80" stroke="#6e6e6e" stroke-width="0.9"/>
<line x1="174.30" y1="393.60" x2="174.30" y2="395.80" stroke="#6e6e6e" stroke-width="0.9"/>
<path d="M62.76,319.10 V331.54 H71.34 V368.79 H79.92 V381.16 H88.50 V393.60" fill="none" stroke="#807c60" stroke-width="1.3" stroke-linecap="butt"/>
<path d="M79.92,337.73 H99.94 V374.98 H162.86" fill="none" stroke="#9a44a8" stroke-width="1.3" stroke-linecap="butt"/>
<path d="M134.26,319.10 V343.91 H145.70 V368.79" fill="none" stroke="#111111" stroke-width="1.3" stroke-linecap="butt"/>
<path d="M111.38,319.10 V343.91 H134.26 V368.79 H162.86" fill="none" stroke="#38cc38" stroke-width="1.3" stroke-linecap="butt"/>
<path d="M79.92,319.10 H162.86" fill="none" stroke="#e81818" stroke-width="1.3" stroke-linecap="butt"/>
<path d="M31.30,319.10 H79.92 V356.35 H88.50 V368.79 H111.38 V393.60" fill="none" stroke="#e8ee20" stroke-width="1.3" stroke-linecap="butt"/>
<line x1="184.40" y1="312.50" x2="193.70" y2="312.50" stroke="#9f9c85" stroke-width="1.15"/>
<line x1="184.40" y1="322.88" x2="193.70" y2="322.88" stroke="#f4f158" stroke-width="1.15"/>
<circle cx="189.0" cy="322.88" r="0.6" fill="#8a8a30"/>
<line x1="184.40" y1="333.26" x2="193.70" y2="333.26" stroke="#a960b5" stroke-width="1.15"/>
<line x1="184.40" y1="343.64" x2="193.70" y2="343.64" stroke="#6ede6e" stroke-width="1.15"/>
<line x1="184.40" y1="354.02" x2="193.70" y2="354.02" stroke="#434343" stroke-width="1.15"/>
<line x1="184.40" y1="364.40" x2="193.70" y2="364.40" stroke="#ea5858" stroke-width="1.15"/>
</g>
<g filter="url(#tx)">
<g transform="translate(28.90,25.82) scale(0.1)"><text font-family="Liberation Sans" font-size="56.0" fill="#262626" stroke="#262626" stroke-width="2.00" text-anchor="end" textLength="119.0" lengthAdjust="spacingAndGlyphs">3000</text></g>
<g transform="translate(28.90,54.68) scale(0.1)"><text font-family="Liberation Sans" font-size="56.0" fill="#262626" stroke="#262626" stroke-width="2.00" text-anchor="end" textLength="119.0" lengthAdjust="spacingAndGlyphs">2000</text></g>
<g transform="translate(28.90,83.55) scale(0.1)"><text font-family="Liberation Sans" font-size="56.0" fill="#262626" stroke="#262626" stroke-width="2.00" text-anchor="end" textLength="119.0" lengthAdjust="spacingAndGlyphs">1000</text></g>
<g transform="translate(28.90,112.42) scale(0.1)"><text font-family="Liberation Sans" font-size="56.0" fill="#262626" stroke="#262626" stroke-width="2.00" text-anchor="end">0</text></g>
<g transform="translate(40.90,117.76) scale(0.1)"><text font-family="Liberation Sans" font-size="49.0" fill="#262626" stroke="#262626" stroke-width="2.00" text-anchor="middle">1</text></g>
<g transform="translate(58.27,117.76) scale(0.1)"><text font-family="Liberation Sans" font-size="49.0" fill="#262626" stroke="#262626" stroke-width="2.00" text-anchor="middle">4</text></g>
<g transform="translate(75.64,117.76) scale(0.1)"><text font-family="Liberation Sans" font-size="49.0" fill="#262626" stroke="#262626" stroke-width="2.00" text-anchor="middle">7</text></g>
<g transform="translate(93.01,117.76) scale(0.1)"><text font-family="Liberation Sans" font-size="49.0" fill="#262626" stroke="#262626" stroke-width="2.00" text-anchor="middle">10</text></g>
<g transform="translate(110.38,117.76) scale(0.1)"><text font-family="Liberation Sans" font-size="49.0" fill="#262626" stroke="#262626" stroke-width="2.00" text-anchor="middle">13</text></g>
<g transform="translate(127.75,117.76) scale(0.1)"><text font-family="Liberation Sans" font-size="49.0" fill="#262626" stroke="#262626" stroke-width="2.00" text-anchor="middle">16</text></g>
<g transform="translate(145.12,117.76) scale(0.1)"><text font-family="Liberation Sans" font-size="49.0" fill="#262626" stroke="#262626" stroke-width="2.00" text-anchor="middle">19</text></g>
<g transform="translate(13.70,67.50) rotate(-90) scale(0.1)"><text font-family="Liberation Sans" font-size="60.0" fill="#2a2a2a" stroke="#2a2a2a" stroke-width="2.00" text-anchor="middle" textLength="480.0" lengthAdjust="spacingAndGlyphs">Tumor volume(mm³)</text></g>
<g transform="translate(92.70,127.00) scale(0.1)"><text font-family="Liberation Sans" font-size="61.0" fill="#2a2a2a" stroke="#2a2a2a" stroke-width="2.00" text-anchor="middle" textLength="323.0" lengthAdjust="spacingAndGlyphs">Survival days</text></g>
<g transform="translate(169.00,32.03) scale(0.1)"><text font-family="Liberation Sans" font-size="56.5" fill="#2a2a2a" stroke="#2a2a2a" stroke-width="2.00" text-anchor="start" textLength="481.0" lengthAdjust="spacing">Euthanasia on D17</text></g>
<g transform="translate(169.00,41.91) scale(0.1)"><text font-family="Liberation Sans" font-size="56.5" fill="#2a2a2a" stroke="#2a2a2a" stroke-width="2.00" text-anchor="start" textLength="481.0" lengthAdjust="spacing">Euthanasia on D20</text></g>
<g transform="translate(169.00,51.79) scale(0.1)"><text font-family="Liberation Sans" font-size="56.5" fill="#2a2a2a" stroke="#2a2a2a" stroke-width="2.00" text-anchor="start" textLength="481.0" lengthAdjust="spacing">Euthanasia on D14</text></g>
<g transform="translate(169.00,61.67) scale(0.1)"><text font-family="Liberation Sans" font-size="56.5" fill="#2a2a2a" stroke="#2a2a2a" stroke-width="2.00" text-anchor="start" textLength="481.0" lengthAdjust="spacing">Euthanasia on D11</text></g>
<g transform="translate(169.00,71.55) scale(0.1)"><text font-family="Liberation Sans" font-size="56.5" fill="#2a2a2a" stroke="#2a2a2a" stroke-width="2.00" text-anchor="start" textLength="481.0" lengthAdjust="spacing">Euthanasia on D14</text></g>
<g transform="translate(169.00,81.43) scale(0.1)"><text font-family="Liberation Sans" font-size="56.5" fill="#2a2a2a" stroke="#2a2a2a" stroke-width="2.00" text-anchor="start" textLength="481.0" lengthAdjust="spacing">Euthanasia on D14</text></g>
<g transform="translate(91.10,14.20) scale(0.1)"><text font-family="Liberation Serif" font-size="85.0" font-weight="bold" fill="#1a1a1a" stroke="#1a1a1a" stroke-width="1.50" text-anchor="middle" textLength="184.0" lengthAdjust="spacingAndGlyphs">NaCl</text></g>
<g transform="translate(274.80,23.32) scale(0.1)"><text font-family="Liberation Sans" font-size="56.0" fill="#262626" stroke="#262626" stroke-width="2.00" text-anchor="end" textLength="119.0" lengthAdjust="spacingAndGlyphs">3000</text></g>
<g transform="translate(274.80,52.18) scale(0.1)"><text font-family="Liberation Sans" font-size="56.0" fill="#262626" stroke="#262626" stroke-width="2.00" text-anchor="end" textLength="119.0" lengthAdjust="spacingAndGlyphs">2000</text></g>
<g transform="translate(274.80,81.05) scale(0.1)"><text font-family="Liberation Sans" font-size="56.0" fill="#262626" stroke="#262626" stroke-width="2.00" text-anchor="end" textLength="119.0" lengthAdjust="spacingAndGlyphs">1000</text></g>
<g transform="translate(274.80,109.92) scale(0.1)"><text font-family="Liberation Sans" font-size="56.0" fill="#262626" stroke="#262626" stroke-width="2.00" text-anchor="end">0</text></g>
<g transform="translate(285.70,115.16) scale(0.1)"><text font-family="Liberation Sans" font-size="49.0" fill="#262626" stroke="#262626" stroke-width="2.00" text-anchor="middle">1</text></g>
<g transform="translate(300.14,115.16) scale(0.1)"><text font-family="Liberation Sans" font-size="49.0" fill="#262626" stroke="#262626" stroke-width="2.00" text-anchor="middle">4</text></g>
<g transform="translate(314.58,115.16) scale(0.1)"><text font-family="Liberation Sans" font-size="49.0" fill="#262626" stroke="#262626" stroke-width="2.00" text-anchor="middle">7</text></g>
<g transform="translate(329.02,115.16) scale(0.1)"><text font-family="Liberation Sans" font-size="49.0" fill="#262626" stroke="#262626" stroke-width="2.00" text-anchor="middle">10</text></g>
<g transform="translate(343.46,115.16) scale(0.1)"><text font-family="Liberation Sans" font-size="49.0" fill="#262626" stroke="#262626" stroke-width="2.00" text-anchor="middle">13</text></g>
<g transform="translate(357.90,115.16) scale(0.1)"><text font-family="Liberation Sans" font-size="49.0" fill="#262626" stroke="#262626" stroke-width="2.00" text-anchor="middle">16</text></g>
<g transform="translate(372.34,115.16) scale(0.1)"><text font-family="Liberation Sans" font-size="49.0" fill="#262626" stroke="#262626" stroke-width="2.00" text-anchor="middle">19</text></g>
<g transform="translate(386.78,115.16) scale(0.1)"><text font-family="Liberation Sans" font-size="49.0" fill="#262626" stroke="#262626" stroke-width="2.00" text-anchor="middle">23</text></g>
<g transform="translate(401.22,115.16) scale(0.1)"><text font-family="Liberation Sans" font-size="49.0" fill="#262626" stroke="#262626" stroke-width="2.00" text-anchor="middle">27</text></g>
<g transform="translate(259.60,64.00) rotate(-90) scale(0.1)"><text font-family="Liberation Sans" font-size="60.0" fill="#2a2a2a" stroke="#2a2a2a" stroke-width="2.00" text-anchor="middle" textLength="490.0" lengthAdjust="spacingAndGlyphs">Tumor volume(mm³)</text></g>
<g transform="translate(343.50,124.30) scale(0.1)"><text font-family="Liberation Sans" font-size="61.0" fill="#2a2a2a" stroke="#2a2a2a" stroke-width="2.00" text-anchor="middle" textLength="365.0" lengthAdjust="spacingAndGlyphs">Survival days</text></g>
<g transform="translate(421.90,27.12) scale(0.1)"><text font-family="Liberation Sans" font-size="56.0" fill="#2a2a2a" stroke="#2a2a2a" stroke-width="2.00" text-anchor="start" textLength="476.0" lengthAdjust="spacing">Euthanasia on D26</text></g>
<g transform="translate(421.90,37.12) scale(0.1)"><text font-family="Liberation Sans" font-size="56.0" fill="#2a2a2a" stroke="#2a2a2a" stroke-width="2.00" text-anchor="start" textLength="476.0" lengthAdjust="spacing">Euthanasia on D26</text></g>
<g transform="translate(421.90,47.12) scale(0.1)"><text font-family="Liberation Sans" font-size="56.0" fill="#2a2a2a" stroke="#2a2a2a" stroke-width="2.00" text-anchor="start" textLength="476.0" lengthAdjust="spacing">Euthanasia on D17</text></g>
<g transform="translate(421.90,57.12) scale(0.1)"><text font-family="Liberation Sans" font-size="56.0" fill="#2a2a2a" stroke="#2a2a2a" stroke-width="2.00" text-anchor="start" textLength="476.0" lengthAdjust="spacing">Euthanasia on D17</text></g>
<g transform="translate(421.90,67.12) scale(0.1)"><text font-family="Liberation Sans" font-size="56.0" fill="#2a2a2a" stroke="#2a2a2a" stroke-width="2.00" text-anchor="start" textLength="476.0" lengthAdjust="spacing">Euthanasia on D17</text></g>
<g transform="translate(421.90,77.12) scale(0.1)"><text font-family="Liberation Sans" font-size="56.0" fill="#2a2a2a" stroke="#2a2a2a" stroke-width="2.00" text-anchor="start" textLength="476.0" lengthAdjust="spacing">Euthanasia on D20</text></g>
<g transform="translate(340.50,11.70) scale(0.1)"><text font-family="Liberation Serif" font-size="85.0" font-weight="bold" fill="#1a1a1a" stroke="#1a1a1a" stroke-width="1.50" text-anchor="middle" textLength="591.0" lengthAdjust="spacingAndGlyphs">m-PD-1 antibody</text></g>
<g transform="translate(525.80,23.42) scale(0.1)"><text font-family="Liberation Sans" font-size="56.0" fill="#262626" stroke="#262626" stroke-width="2.00" text-anchor="end" textLength="119.0" lengthAdjust="spacingAndGlyphs">3000</text></g>
<g transform="translate(525.80,52.25) scale(0.1)"><text font-family="Liberation Sans" font-size="56.0" fill="#262626" stroke="#262626" stroke-width="2.00" text-anchor="end" textLength="119.0" lengthAdjust="spacingAndGlyphs">2000</text></g>
<g transform="translate(525.80,81.08) scale(0.1)"><text font-family="Liberation Sans" font-size="56.0" fill="#262626" stroke="#262626" stroke-width="2.00" text-anchor="end" textLength="119.0" lengthAdjust="spacingAndGlyphs">1000</text></g>
<g transform="translate(525.80,109.92) scale(0.1)"><text font-family="Liberation Sans" font-size="56.0" fill="#262626" stroke="#262626" stroke-width="2.00" text-anchor="end">0</text></g>
<g transform="translate(534.00,115.16) scale(0.1)"><text font-family="Liberation Sans" font-size="49.0" fill="#262626" stroke="#262626" stroke-width="2.00" text-anchor="middle">1</text></g>
<g transform="translate(543.36,115.16) scale(0.1)"><text font-family="Liberation Sans" font-size="49.0" fill="#262626" stroke="#262626" stroke-width="2.00" text-anchor="middle">4</text></g>
<g transform="translate(552.72,115.16) scale(0.1)"><text font-family="Liberation Sans" font-size="49.0" fill="#262626" stroke="#262626" stroke-width="2.00" text-anchor="middle">7</text></g>
<g transform="translate(562.08,115.16) scale(0.1)"><text font-family="Liberation Sans" font-size="49.0" fill="#262626" stroke="#262626" stroke-width="2.00" text-anchor="middle">10</text></g>
<g transform="translate(571.44,115.16) scale(0.1)"><text font-family="Liberation Sans" font-size="49.0" fill="#262626" stroke="#262626" stroke-width="2.00" text-anchor="middle">13</text></g>
<g transform="translate(580.80,115.16) scale(0.1)"><text font-family="Liberation Sans" font-size="49.0" fill="#262626" stroke="#262626" stroke-width="2.00" text-anchor="middle">16</text></g>
<g transform="translate(590.16,115.16) scale(0.1)"><text font-family="Liberation Sans" font-size="49.0" fill="#262626" stroke="#262626" stroke-width="2.00" text-anchor="middle">19</text></g>
<g transform="translate(599.52,115.16) scale(0.1)"><text font-family="Liberation Sans" font-size="49.0" fill="#262626" stroke="#262626" stroke-width="2.00" text-anchor="middle">23</text></g>
<g transform="translate(608.88,115.16) scale(0.1)"><text font-family="Liberation Sans" font-size="49.0" fill="#262626" stroke="#262626" stroke-width="2.00" text-anchor="middle">27</text></g>
<g transform="translate(618.24,115.16) scale(0.1)"><text font-family="Liberation Sans" font-size="49.0" fill="#262626" stroke="#262626" stroke-width="2.00" text-anchor="middle">31</text></g>
<g transform="translate(627.60,115.16) scale(0.1)"><text font-family="Liberation Sans" font-size="49.0" fill="#262626" stroke="#262626" stroke-width="2.00" text-anchor="middle">35</text></g>
<g transform="translate(636.96,115.16) scale(0.1)"><text font-family="Liberation Sans" font-size="49.0" fill="#262626" stroke="#262626" stroke-width="2.00" text-anchor="middle">39</text></g>
<g transform="translate(646.32,115.16) scale(0.1)"><text font-family="Liberation Sans" font-size="49.0" fill="#262626" stroke="#262626" stroke-width="2.00" text-anchor="middle">43</text></g>
<g transform="translate(655.68,115.16) scale(0.1)"><text font-family="Liberation Sans" font-size="49.0" fill="#262626" stroke="#262626" stroke-width="2.00" text-anchor="middle">46</text></g>
<g transform="translate(511.80,64.10) rotate(-90) scale(0.1)"><text font-family="Liberation Sans" font-size="60.0" fill="#2a2a2a" stroke="#2a2a2a" stroke-width="2.00" text-anchor="middle" textLength="484.0" lengthAdjust="spacingAndGlyphs">Tumor volume(mm³)</text></g>
<g transform="translate(594.80,124.70) scale(0.1)"><text font-family="Liberation Sans" font-size="61.0" fill="#2a2a2a" stroke="#2a2a2a" stroke-width="2.00" text-anchor="middle" textLength="365.0" lengthAdjust="spacingAndGlyphs">Survival days</text></g>
<g transform="translate(668.10,29.12) scale(0.1)"><text font-family="Liberation Sans" font-size="56.0" fill="#2a2a2a" stroke="#2a2a2a" stroke-width="2.00" text-anchor="start" textLength="574.0" lengthAdjust="spacing">Survival at the endpoint</text></g>
<g transform="translate(668.10,39.02) scale(0.1)"><text font-family="Liberation Sans" font-size="56.0" fill="#2a2a2a" stroke="#2a2a2a" stroke-width="2.00" text-anchor="start" textLength="468.0" lengthAdjust="spacing">Euthanasia on D24</text></g>
<g transform="translate(668.10,48.92) scale(0.1)"><text font-family="Liberation Sans" font-size="56.0" fill="#2a2a2a" stroke="#2a2a2a" stroke-width="2.00" text-anchor="start" textLength="468.0" lengthAdjust="spacing">Euthanasia on D17</text></g>
<g transform="translate(668.10,58.82) scale(0.1)"><text font-family="Liberation Sans" font-size="56.0" fill="#2a2a2a" stroke="#2a2a2a" stroke-width="2.00" text-anchor="start" textLength="574.0" lengthAdjust="spacing">Survival at the endpoint</text></g>
<g transform="translate(668.10,68.72) scale(0.1)"><text font-family="Liberation Sans" font-size="56.0" fill="#2a2a2a" stroke="#2a2a2a" stroke-width="2.00" text-anchor="start" textLength="574.0" lengthAdjust="spacing">Survival at the endpoint</text></g>
<g transform="translate(668.10,78.62) scale(0.1)"><text font-family="Liberation Sans" font-size="56.0" fill="#2a2a2a" stroke="#2a2a2a" stroke-width="2.00" text-anchor="start" textLength="468.0" lengthAdjust="spacing">Euthanasia on D24</text></g>
<g transform="translate(592.60,11.50) scale(0.1)"><text font-family="Liberation Serif" font-size="85.0" font-weight="bold" fill="#1a1a1a" stroke="#1a1a1a" stroke-width="1.50" text-anchor="middle" textLength="254.0" lengthAdjust="spacingAndGlyphs">VT09X</text></g>
<g transform="translate(29.80,171.62) scale(0.1)"><text font-family="Liberation Sans" font-size="56.0" fill="#262626" stroke="#262626" stroke-width="2.00" text-anchor="end" textLength="119.0" lengthAdjust="spacingAndGlyphs">3000</text></g>
<g transform="translate(29.80,200.48) scale(0.1)"><text font-family="Liberation Sans" font-size="56.0" fill="#262626" stroke="#262626" stroke-width="2.00" text-anchor="end" textLength="119.0" lengthAdjust="spacingAndGlyphs">2000</text></g>
<g transform="translate(29.80,229.35) scale(0.1)"><text font-family="Liberation Sans" font-size="56.0" fill="#262626" stroke="#262626" stroke-width="2.00" text-anchor="end" textLength="119.0" lengthAdjust="spacingAndGlyphs">1000</text></g>
<g transform="translate(29.80,258.22) scale(0.1)"><text font-family="Liberation Sans" font-size="56.0" fill="#262626" stroke="#262626" stroke-width="2.00" text-anchor="end">0</text></g>
<g transform="translate(37.70,263.26) scale(0.1)"><text font-family="Liberation Sans" font-size="49.0" fill="#262626" stroke="#262626" stroke-width="2.00" text-anchor="middle">1</text></g>
<g transform="translate(46.97,263.26) scale(0.1)"><text font-family="Liberation Sans" font-size="49.0" fill="#262626" stroke="#262626" stroke-width="2.00" text-anchor="middle">4</text></g>
<g transform="translate(56.24,263.26) scale(0.1)"><text font-family="Liberation Sans" font-size="49.0" fill="#262626" stroke="#262626" stroke-width="2.00" text-anchor="middle">7</text></g>
<g transform="translate(65.51,263.26) scale(0.1)"><text font-family="Liberation Sans" font-size="49.0" fill="#262626" stroke="#262626" stroke-width="2.00" text-anchor="middle">10</text></g>
<g transform="translate(74.78,263.26) scale(0.1)"><text font-family="Liberation Sans" font-size="49.0" fill="#262626" stroke="#262626" stroke-width="2.00" text-anchor="middle">13</text></g>
<g transform="translate(84.05,263.26) scale(0.1)"><text font-family="Liberation Sans" font-size="49.0" fill="#262626" stroke="#262626" stroke-width="2.00" text-anchor="middle">16</text></g>
<g transform="translate(93.32,263.26) scale(0.1)"><text font-family="Liberation Sans" font-size="49.0" fill="#262626" stroke="#262626" stroke-width="2.00" text-anchor="middle">19</text></g>
<g transform="translate(102.59,263.26) scale(0.1)"><text font-family="Liberation Sans" font-size="49.0" fill="#262626" stroke="#262626" stroke-width="2.00" text-anchor="middle">23</text></g>
<g transform="translate(111.86,263.26) scale(0.1)"><text font-family="Liberation Sans" font-size="49.0" fill="#262626" stroke="#262626" stroke-width="2.00" text-anchor="middle">27</text></g>
<g transform="translate(121.13,263.26) scale(0.1)"><text font-family="Liberation Sans" font-size="49.0" fill="#262626" stroke="#262626" stroke-width="2.00" text-anchor="middle">31</text></g>
<g transform="translate(130.40,263.26) scale(0.1)"><text font-family="Liberation Sans" font-size="49.0" fill="#262626" stroke="#262626" stroke-width="2.00" text-anchor="middle">35</text></g>
<g transform="translate(139.67,263.26) scale(0.1)"><text font-family="Liberation Sans" font-size="49.0" fill="#262626" stroke="#262626" stroke-width="2.00" text-anchor="middle">39</text></g>
<g transform="translate(148.94,263.26) scale(0.1)"><text font-family="Liberation Sans" font-size="49.0" fill="#262626" stroke="#262626" stroke-width="2.00" text-anchor="middle">43</text></g>
<g transform="translate(158.21,263.26) scale(0.1)"><text font-family="Liberation Sans" font-size="49.0" fill="#262626" stroke="#262626" stroke-width="2.00" text-anchor="middle">46</text></g>
<g transform="translate(14.90,213.60) rotate(-90) scale(0.1)"><text font-family="Liberation Sans" font-size="60.0" fill="#2a2a2a" stroke="#2a2a2a" stroke-width="2.00" text-anchor="middle" textLength="484.0" lengthAdjust="spacingAndGlyphs">Tumor volume(mm³)</text></g>
<g transform="translate(98.50,272.70) scale(0.1)"><text font-family="Liberation Sans" font-size="61.0" fill="#2a2a2a" stroke="#2a2a2a" stroke-width="2.00" text-anchor="middle" textLength="365.0" lengthAdjust="spacingAndGlyphs">Survival days</text></g>
<g transform="translate(176.90,177.12) scale(0.1)"><text font-family="Liberation Sans" font-size="56.0" fill="#2a2a2a" stroke="#2a2a2a" stroke-width="2.00" text-anchor="start" textLength="575.0" lengthAdjust="spacing">Survival at the endpoint</text></g>
<g transform="translate(176.90,187.12) scale(0.1)"><text font-family="Liberation Sans" font-size="56.0" fill="#2a2a2a" stroke="#2a2a2a" stroke-width="2.00" text-anchor="start" textLength="575.0" lengthAdjust="spacing">Survival at the endpoint</text></g>
<g transform="translate(176.90,197.12) scale(0.1)"><text font-family="Liberation Sans" font-size="56.0" fill="#2a2a2a" stroke="#2a2a2a" stroke-width="2.00" text-anchor="start" textLength="474.0" lengthAdjust="spacing">Euthanasia on D36</text></g>
<g transform="translate(176.90,207.12) scale(0.1)"><text font-family="Liberation Sans" font-size="56.0" fill="#2a2a2a" stroke="#2a2a2a" stroke-width="2.00" text-anchor="start" textLength="575.0" lengthAdjust="spacing">Survival at the endpoint</text></g>
<g transform="translate(176.90,217.12) scale(0.1)"><text font-family="Liberation Sans" font-size="56.0" fill="#2a2a2a" stroke="#2a2a2a" stroke-width="2.00" text-anchor="start" textLength="575.0" lengthAdjust="spacing">Survival at the endpoint</text></g>
<g transform="translate(176.90,227.12) scale(0.1)"><text font-family="Liberation Sans" font-size="56.0" fill="#2a2a2a" stroke="#2a2a2a" stroke-width="2.00" text-anchor="start" textLength="474.0" lengthAdjust="spacing">Euthanasia on D28</text></g>
<g transform="translate(96.35,159.90) scale(0.1)"><text font-family="Liberation Serif" font-size="85.0" font-weight="bold" fill="#1a1a1a" stroke="#1a1a1a" stroke-width="1.50" text-anchor="middle" textLength="359.0" lengthAdjust="spacingAndGlyphs">VT1093M</text></g>
<g transform="translate(274.80,170.42) scale(0.1)"><text font-family="Liberation Sans" font-size="56.0" fill="#262626" stroke="#262626" stroke-width="2.00" text-anchor="end" textLength="119.0" lengthAdjust="spacingAndGlyphs">3000</text></g>
<g transform="translate(274.80,199.12) scale(0.1)"><text font-family="Liberation Sans" font-size="56.0" fill="#262626" stroke="#262626" stroke-width="2.00" text-anchor="end" textLength="119.0" lengthAdjust="spacingAndGlyphs">2000</text></g>
<g transform="translate(274.80,227.82) scale(0.1)"><text font-family="Liberation Sans" font-size="56.0" fill="#262626" stroke="#262626" stroke-width="2.00" text-anchor="end" textLength="119.0" lengthAdjust="spacingAndGlyphs">1000</text></g>
<g transform="translate(274.80,256.52) scale(0.1)"><text font-family="Liberation Sans" font-size="56.0" fill="#262626" stroke="#262626" stroke-width="2.00" text-anchor="end">0</text></g>
<g transform="translate(282.80,261.76) scale(0.1)"><text font-family="Liberation Sans" font-size="49.0" fill="#262626" stroke="#262626" stroke-width="2.00" text-anchor="middle">1</text></g>
<g transform="translate(292.10,261.76) scale(0.1)"><text font-family="Liberation Sans" font-size="49.0" fill="#262626" stroke="#262626" stroke-width="2.00" text-anchor="middle">4</text></g>
<g transform="translate(301.40,261.76) scale(0.1)"><text font-family="Liberation Sans" font-size="49.0" fill="#262626" stroke="#262626" stroke-width="2.00" text-anchor="middle">7</text></g>
<g transform="translate(310.70,261.76) scale(0.1)"><text font-family="Liberation Sans" font-size="49.0" fill="#262626" stroke="#262626" stroke-width="2.00" text-anchor="middle">10</text></g>
<g transform="translate(320.00,261.76) scale(0.1)"><text font-family="Liberation Sans" font-size="49.0" fill="#262626" stroke="#262626" stroke-width="2.00" text-anchor="middle">13</text></g>
<g transform="translate(329.30,261.76) scale(0.1)"><text font-family="Liberation Sans" font-size="49.0" fill="#262626" stroke="#262626" stroke-width="2.00" text-anchor="middle">16</text></g>
<g transform="translate(338.60,261.76) scale(0.1)"><text font-family="Liberation Sans" font-size="49.0" fill="#262626" stroke="#262626" stroke-width="2.00" text-anchor="middle">19</text></g>
<g transform="translate(347.90,261.76) scale(0.1)"><text font-family="Liberation Sans" font-size="49.0" fill="#262626" stroke="#262626" stroke-width="2.00" text-anchor="middle">23</text></g>
<g transform="translate(357.20,261.76) scale(0.1)"><text font-family="Liberation Sans" font-size="49.0" fill="#262626" stroke="#262626" stroke-width="2.00" text-anchor="middle">27</text></g>
<g transform="translate(366.50,261.76) scale(0.1)"><text font-family="Liberation Sans" font-size="49.0" fill="#262626" stroke="#262626" stroke-width="2.00" text-anchor="middle">31</text></g>
<g transform="translate(375.80,261.76) scale(0.1)"><text font-family="Liberation Sans" font-size="49.0" fill="#262626" stroke="#262626" stroke-width="2.00" text-anchor="middle">35</text></g>
<g transform="translate(385.10,261.76) scale(0.1)"><text font-family="Liberation Sans" font-size="49.0" fill="#262626" stroke="#262626" stroke-width="2.00" text-anchor="middle">39</text></g>
<g transform="translate(394.40,261.76) scale(0.1)"><text font-family="Liberation Sans" font-size="49.0" fill="#262626" stroke="#262626" stroke-width="2.00" text-anchor="middle">43</text></g>
<g transform="translate(403.70,261.76) scale(0.1)"><text font-family="Liberation Sans" font-size="49.0" fill="#262626" stroke="#262626" stroke-width="2.00" text-anchor="middle">46</text></g>
<g transform="translate(260.10,211.60) rotate(-90) scale(0.1)"><text font-family="Liberation Sans" font-size="60.0" fill="#2a2a2a" stroke="#2a2a2a" stroke-width="2.00" text-anchor="middle" textLength="493.0" lengthAdjust="spacingAndGlyphs">Tumor volume(mm³)</text></g>
<g transform="translate(343.20,271.40) scale(0.1)"><text font-family="Liberation Sans" font-size="61.0" fill="#2a2a2a" stroke="#2a2a2a" stroke-width="2.00" text-anchor="middle" textLength="361.0" lengthAdjust="spacingAndGlyphs">Survival days</text></g>
<g transform="translate(421.00,175.42) scale(0.1)"><text font-family="Liberation Sans" font-size="56.0" fill="#2a2a2a" stroke="#2a2a2a" stroke-width="2.00" text-anchor="start" textLength="572.0" lengthAdjust="spacing">Survival at the endpoint</text></g>
<g transform="translate(421.00,185.52) scale(0.1)"><text font-family="Liberation Sans" font-size="56.0" fill="#2a2a2a" stroke="#2a2a2a" stroke-width="2.00" text-anchor="start" textLength="572.0" lengthAdjust="spacing">Survival at the endpoint</text></g>
<g transform="translate(421.00,195.62) scale(0.1)"><text font-family="Liberation Sans" font-size="56.0" fill="#2a2a2a" stroke="#2a2a2a" stroke-width="2.00" text-anchor="start" textLength="474.0" lengthAdjust="spacing">Euthanasia on D40</text></g>
<g transform="translate(421.00,205.72) scale(0.1)"><text font-family="Liberation Sans" font-size="56.0" fill="#2a2a2a" stroke="#2a2a2a" stroke-width="2.00" text-anchor="start" textLength="572.0" lengthAdjust="spacing">Survival at the endpoint</text></g>
<g transform="translate(421.00,215.82) scale(0.1)"><text font-family="Liberation Sans" font-size="56.0" fill="#2a2a2a" stroke="#2a2a2a" stroke-width="2.00" text-anchor="start" textLength="474.0" lengthAdjust="spacing">Euthanasia on D36</text></g>
<g transform="translate(421.00,225.92) scale(0.1)"><text font-family="Liberation Sans" font-size="56.0" fill="#2a2a2a" stroke="#2a2a2a" stroke-width="2.00" text-anchor="start" textLength="572.0" lengthAdjust="spacing">Survival at the endpoint</text></g>
<g transform="translate(341.60,158.70) scale(0.1)"><text font-family="Liberation Serif" font-size="85.0" font-weight="bold" fill="#1a1a1a" stroke="#1a1a1a" stroke-width="1.50" text-anchor="middle" textLength="365.0" lengthAdjust="spacingAndGlyphs">VT1092M</text></g>
<g transform="translate(524.60,170.42) scale(0.1)"><text font-family="Liberation Sans" font-size="56.0" fill="#262626" stroke="#262626" stroke-width="2.00" text-anchor="end" textLength="119.0" lengthAdjust="spacingAndGlyphs">3000</text></g>
<g transform="translate(524.60,199.08) scale(0.1)"><text font-family="Liberation Sans" font-size="56.0" fill="#262626" stroke="#262626" stroke-width="2.00" text-anchor="end" textLength="119.0" lengthAdjust="spacingAndGlyphs">2000</text></g>
<g transform="translate(524.60,227.75) scale(0.1)"><text font-family="Liberation Sans" font-size="56.0" fill="#262626" stroke="#262626" stroke-width="2.00" text-anchor="end" textLength="119.0" lengthAdjust="spacingAndGlyphs">1000</text></g>
<g transform="translate(524.60,256.42) scale(0.1)"><text font-family="Liberation Sans" font-size="56.0" fill="#262626" stroke="#262626" stroke-width="2.00" text-anchor="end">0</text></g>
<g transform="translate(532.80,261.76) scale(0.1)"><text font-family="Liberation Sans" font-size="49.0" fill="#262626" stroke="#262626" stroke-width="2.00" text-anchor="middle">1</text></g>
<g transform="translate(542.10,261.76) scale(0.1)"><text font-family="Liberation Sans" font-size="49.0" fill="#262626" stroke="#262626" stroke-width="2.00" text-anchor="middle">4</text></g>
<g transform="translate(551.40,261.76) scale(0.1)"><text font-family="Liberation Sans" font-size="49.0" fill="#262626" stroke="#262626" stroke-width="2.00" text-anchor="middle">7</text></g>
<g transform="translate(560.70,261.76) scale(0.1)"><text font-family="Liberation Sans" font-size="49.0" fill="#262626" stroke="#262626" stroke-width="2.00" text-anchor="middle">10</text></g>
<g transform="translate(570.00,261.76) scale(0.1)"><text font-family="Liberation Sans" font-size="49.0" fill="#262626" stroke="#262626" stroke-width="2.00" text-anchor="middle">13</text></g>
<g transform="translate(579.30,261.76) scale(0.1)"><text font-family="Liberation Sans" font-size="49.0" fill="#262626" stroke="#262626" stroke-width="2.00" text-anchor="middle">16</text></g>
<g transform="translate(588.60,261.76) scale(0.1)"><text font-family="Liberation Sans" font-size="49.0" fill="#262626" stroke="#262626" stroke-width="2.00" text-anchor="middle">19</text></g>
<g transform="translate(597.90,261.76) scale(0.1)"><text font-family="Liberation Sans" font-size="49.0" fill="#262626" stroke="#262626" stroke-width="2.00" text-anchor="middle">23</text></g>
<g transform="translate(607.20,261.76) scale(0.1)"><text font-family="Liberation Sans" font-size="49.0" fill="#262626" stroke="#262626" stroke-width="2.00" text-anchor="middle">27</text></g>
<g transform="translate(616.50,261.76) scale(0.1)"><text font-family="Liberation Sans" font-size="49.0" fill="#262626" stroke="#262626" stroke-width="2.00" text-anchor="middle">31</text></g>
<g transform="translate(625.80,261.76) scale(0.1)"><text font-family="Liberation Sans" font-size="49.0" fill="#262626" stroke="#262626" stroke-width="2.00" text-anchor="middle">35</text></g>
<g transform="translate(635.10,261.76) scale(0.1)"><text font-family="Liberation Sans" font-size="49.0" fill="#262626" stroke="#262626" stroke-width="2.00" text-anchor="middle">39</text></g>
<g transform="translate(644.40,261.76) scale(0.1)"><text font-family="Liberation Sans" font-size="49.0" fill="#262626" stroke="#262626" stroke-width="2.00" text-anchor="middle">43</text></g>
<g transform="translate(653.70,261.76) scale(0.1)"><text font-family="Liberation Sans" font-size="49.0" fill="#262626" stroke="#262626" stroke-width="2.00" text-anchor="middle">46</text></g>
<g transform="translate(510.10,212.80) rotate(-90) scale(0.1)"><text font-family="Liberation Sans" font-size="60.0" fill="#2a2a2a" stroke="#2a2a2a" stroke-width="2.00" text-anchor="middle" textLength="484.0" lengthAdjust="spacingAndGlyphs">Tumor volume(mm³)</text></g>
<g transform="translate(593.50,271.40) scale(0.1)"><text font-family="Liberation Sans" font-size="61.0" fill="#2a2a2a" stroke="#2a2a2a" stroke-width="2.00" text-anchor="middle" textLength="365.0" lengthAdjust="spacingAndGlyphs">Survival days</text></g>
<g transform="translate(668.60,175.42) scale(0.1)"><text font-family="Liberation Sans" font-size="56.0" fill="#2a2a2a" stroke="#2a2a2a" stroke-width="2.00" text-anchor="start" textLength="575.0" lengthAdjust="spacing">Survival at the endpoint</text></g>
<g transform="translate(668.60,185.52) scale(0.1)"><text font-family="Liberation Sans" font-size="56.0" fill="#2a2a2a" stroke="#2a2a2a" stroke-width="2.00" text-anchor="start" textLength="575.0" lengthAdjust="spacing">Survival at the endpoint</text></g>
<g transform="translate(668.60,195.62) scale(0.1)"><text font-family="Liberation Sans" font-size="56.0" fill="#2a2a2a" stroke="#2a2a2a" stroke-width="2.00" text-anchor="start" textLength="575.0" lengthAdjust="spacing">Survival at the endpoint</text></g>
<g transform="translate(668.60,205.72) scale(0.1)"><text font-family="Liberation Sans" font-size="56.0" fill="#2a2a2a" stroke="#2a2a2a" stroke-width="2.00" text-anchor="start" textLength="575.0" lengthAdjust="spacing">Survival at the endpoint</text></g>
<g transform="translate(668.60,215.82) scale(0.1)"><text font-family="Liberation Sans" font-size="56.0" fill="#2a2a2a" stroke="#2a2a2a" stroke-width="2.00" text-anchor="start" textLength="575.0" lengthAdjust="spacing">Survival at the endpoint</text></g>
<g transform="translate(668.60,225.92) scale(0.1)"><text font-family="Liberation Sans" font-size="56.0" fill="#2a2a2a" stroke="#2a2a2a" stroke-width="2.00" text-anchor="start" textLength="575.0" lengthAdjust="spacing">Survival at the endpoint</text></g>
<g transform="translate(591.40,158.70) scale(0.1)"><text font-family="Liberation Serif" font-size="85.0" font-weight="bold" fill="#1a1a1a" stroke="#1a1a1a" stroke-width="1.50" text-anchor="middle" textLength="777.0" lengthAdjust="spacingAndGlyphs">VT1092M+VT1093M</text></g>
<g transform="translate(27.60,321.15) scale(0.1)"><text font-family="Liberation Sans" font-size="57.0" fill="#262626" stroke="#262626" stroke-width="2.00" text-anchor="end">100</text></g>
<g transform="translate(27.60,358.40) scale(0.1)"><text font-family="Liberation Sans" font-size="57.0" fill="#262626" stroke="#262626" stroke-width="2.00" text-anchor="end">50</text></g>
<g transform="translate(27.60,395.65) scale(0.1)"><text font-family="Liberation Sans" font-size="57.0" fill="#262626" stroke="#262626" stroke-width="2.00" text-anchor="end">0</text></g>
<g transform="translate(31.30,403.06) scale(0.1)"><text font-family="Liberation Sans" font-size="60.0" fill="#262626" stroke="#262626" stroke-width="2.00" text-anchor="middle">0</text></g>
<g transform="translate(59.90,403.06) scale(0.1)"><text font-family="Liberation Sans" font-size="60.0" fill="#262626" stroke="#262626" stroke-width="2.00" text-anchor="middle">10</text></g>
<g transform="translate(88.50,403.06) scale(0.1)"><text font-family="Liberation Sans" font-size="60.0" fill="#262626" stroke="#262626" stroke-width="2.00" text-anchor="middle">20</text></g>
<g transform="translate(117.10,403.06) scale(0.1)"><text font-family="Liberation Sans" font-size="60.0" fill="#262626" stroke="#262626" stroke-width="2.00" text-anchor="middle">30</text></g>
<g transform="translate(145.70,403.06) scale(0.1)"><text font-family="Liberation Sans" font-size="60.0" fill="#262626" stroke="#262626" stroke-width="2.00" text-anchor="middle">40</text></g>
<g transform="translate(174.30,403.06) scale(0.1)"><text font-family="Liberation Sans" font-size="60.0" fill="#262626" stroke="#262626" stroke-width="2.00" text-anchor="middle">50</text></g>
<g transform="translate(109.90,410.92) scale(0.1)"><text font-family="Liberation Sans" font-size="59.0" fill="#2a2a2a" stroke="#2a2a2a" stroke-width="2.00" text-anchor="middle" textLength="135.0" lengthAdjust="spacingAndGlyphs">Days</text></g>
<g transform="translate(13.63,339.00) rotate(-90) scale(0.1)"><text font-family="Liberation Sans" font-size="61.0" fill="#2a2a2a" stroke="#2a2a2a" stroke-width="2.00" text-anchor="middle" textLength="433.0" lengthAdjust="spacingAndGlyphs">Percent survival</text></g>
<g transform="translate(198.60,314.70) scale(0.1)"><text font-family="Liberation Sans" font-size="61.0" fill="#2a2a2a" stroke="#2a2a2a" stroke-width="2.00" text-anchor="start">NaCl</text></g>
<g transform="translate(198.60,325.08) scale(0.1)"><text font-family="Liberation Sans" font-size="61.0" fill="#2a2a2a" stroke="#2a2a2a" stroke-width="2.00" text-anchor="start">m-PD-1 antibody</text></g>
<g transform="translate(198.60,335.46) scale(0.1)"><text font-family="Liberation Sans" font-size="61.0" fill="#2a2a2a" stroke="#2a2a2a" stroke-width="2.00" text-anchor="start">VT09X-0</text></g>
<g transform="translate(198.60,345.84) scale(0.1)"><text font-family="Liberation Sans" font-size="61.0" fill="#2a2a2a" stroke="#2a2a2a" stroke-width="2.00" text-anchor="start">VT1093M</text></g>
<g transform="translate(198.60,356.22) scale(0.1)"><text font-family="Liberation Sans" font-size="61.0" fill="#2a2a2a" stroke="#2a2a2a" stroke-width="2.00" text-anchor="start">VT1092M</text></g>
<g transform="translate(198.60,366.60) scale(0.1)"><text font-family="Liberation Sans" font-size="61.0" fill="#2a2a2a" stroke="#2a2a2a" stroke-width="2.00" text-anchor="start">VT1092M+VT1093M</text></g>
<g transform="translate(0.60,9.50) scale(0.1)"><text font-family="Liberation Sans" font-size="108.0" fill="#222" stroke="#222" stroke-width="2.00" text-anchor="start">a</text></g>
<g transform="translate(238.70,9.80) scale(0.1)"><text font-family="Liberation Sans" font-size="108.0" fill="#222" stroke="#222" stroke-width="2.00" text-anchor="start">b</text></g>
<g transform="translate(488.40,10.00) scale(0.1)"><text font-family="Liberation Sans" font-size="108.0" fill="#222" stroke="#222" stroke-width="2.00" text-anchor="start">c</text></g>
<g transform="translate(0.60,159.90) scale(0.1)"><text font-family="Liberation Sans" font-size="108.0" fill="#222" stroke="#222" stroke-width="2.00" text-anchor="start">d</text></g>
<g transform="translate(238.40,160.50) scale(0.1)"><text font-family="Liberation Sans" font-size="108.0" fill="#222" stroke="#222" stroke-width="2.00" text-anchor="start">e</text></g>
<g transform="translate(488.40,160.00) scale(0.1)"><text font-family="Liberation Sans" font-size="108.0" fill="#222" stroke="#222" stroke-width="2.00" text-anchor="start">f</text></g>
<g transform="translate(0.60,298.00) scale(0.1)"><text font-family="Liberation Sans" font-size="108.0" fill="#222" stroke="#222" stroke-width="2.00" text-anchor="start">g</text></g>
</g>
</svg>
</body></html>
